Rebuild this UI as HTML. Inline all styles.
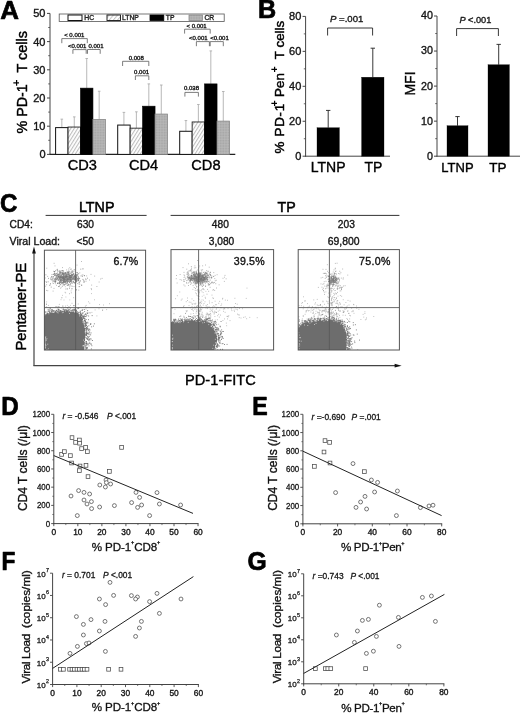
<!DOCTYPE html>
<html><head><meta charset="utf-8"><title>Figure</title>
<style>
html,body{margin:0;padding:0;background:#fff;}
body{width:520px;height:715px;overflow:hidden;font-family:"Liberation Sans",sans-serif;}
svg{display:block;will-change:transform;filter:blur(0.35px);-webkit-font-smoothing:antialiased;font-family:"Liberation Sans",sans-serif;}
</style></head><body>
<svg width="520" height="715" viewBox="0 0 520 715">
<defs>
<pattern id="hatch" width="2.9" height="2.9" patternUnits="userSpaceOnUse" patternTransform="rotate(32)">
<rect width="2.9" height="2.9" fill="#fff"/><line x1="0.6" y1="0" x2="0.6" y2="2.9" stroke="#909090" stroke-width="0.65"/></pattern>
<pattern id="hatch2" width="3.2" height="3.2" patternUnits="userSpaceOnUse" patternTransform="rotate(40)">
<rect width="3.2" height="3.2" fill="#fff"/><line x1="0.6" y1="0" x2="0.6" y2="3.2" stroke="#999" stroke-width="0.6"/></pattern>
<pattern id="grid" width="1.6" height="1.6" patternUnits="userSpaceOnUse">
<rect width="1.6" height="1.6" fill="#a4a4a4"/><path d="M0 0.4H1.6M0.4 0V1.6" stroke="#bcbcbc" stroke-width="0.5"/></pattern>
</defs>
<rect width="520" height="715" fill="#fff"/>
<g id="A">
<text transform="translate(0.30,19.20) scale(1.03,1)" font-size="25.2" font-weight="bold" fill="#000" stroke="#000" stroke-width="0.7" stroke-linejoin="round">A</text>
<line x1="50.00" y1="13.40" x2="50.00" y2="154.90" stroke="#444" stroke-width="1" />
<line x1="49.50" y1="154.40" x2="235.30" y2="154.40" stroke="#222" stroke-width="1.1" />
<line x1="47.00" y1="154.40" x2="50.00" y2="154.40" stroke="#444" stroke-width="1" />
<text x="45.50" y="158.30" font-size="11" text-anchor="end" font-weight="normal" font-style="normal" fill="#161616"  stroke="#161616" stroke-width="0.36">0</text>
<line x1="47.00" y1="126.20" x2="50.00" y2="126.20" stroke="#444" stroke-width="1" />
<text x="45.50" y="130.10" font-size="11" text-anchor="end" font-weight="normal" font-style="normal" fill="#161616"  stroke="#161616" stroke-width="0.36">10</text>
<line x1="47.00" y1="98.00" x2="50.00" y2="98.00" stroke="#444" stroke-width="1" />
<text x="45.50" y="101.90" font-size="11" text-anchor="end" font-weight="normal" font-style="normal" fill="#161616"  stroke="#161616" stroke-width="0.36">20</text>
<line x1="47.00" y1="69.80" x2="50.00" y2="69.80" stroke="#444" stroke-width="1" />
<text x="45.50" y="73.70" font-size="11" text-anchor="end" font-weight="normal" font-style="normal" fill="#161616"  stroke="#161616" stroke-width="0.36">30</text>
<line x1="47.00" y1="41.60" x2="50.00" y2="41.60" stroke="#444" stroke-width="1" />
<text x="45.50" y="45.50" font-size="11" text-anchor="end" font-weight="normal" font-style="normal" fill="#161616"  stroke="#161616" stroke-width="0.36">40</text>
<line x1="47.00" y1="13.40" x2="50.00" y2="13.40" stroke="#444" stroke-width="1" />
<text x="45.50" y="17.30" font-size="11" text-anchor="end" font-weight="normal" font-style="normal" fill="#161616"  stroke="#161616" stroke-width="0.36">50</text>
<line x1="48.20" y1="140.30" x2="50.00" y2="140.30" stroke="#444" stroke-width="0.8" />
<line x1="48.20" y1="112.10" x2="50.00" y2="112.10" stroke="#444" stroke-width="0.8" />
<line x1="48.20" y1="83.90" x2="50.00" y2="83.90" stroke="#444" stroke-width="0.8" />
<line x1="48.20" y1="55.70" x2="50.00" y2="55.70" stroke="#444" stroke-width="0.8" />
<line x1="48.20" y1="27.50" x2="50.00" y2="27.50" stroke="#444" stroke-width="0.8" />
<text transform="translate(26.70,133.50) rotate(-90)" font-size="14.3" text-anchor="start" font-weight="normal" fill="#000" stroke="#000" stroke-width="0.45">% PD-1</text>
<text transform="translate(20.40,86.20) rotate(-90)" font-size="11.5" text-anchor="start" font-weight="bold" fill="#000" >+</text>
<text transform="translate(26.70,72.60) rotate(-90)" font-size="14.5" text-anchor="start" font-weight="normal" fill="#000" stroke="#000" stroke-width="0.45">T cells</text>
<rect x="59.20" y="14.00" width="165.00" height="7.40" fill="none" stroke="#555" stroke-width="0.8" />
<rect x="68.00" y="15.00" width="14.00" height="5.50" fill="#fff" stroke="#111" stroke-width="1.0" />
<text x="84.30" y="20.30" font-size="6.8" text-anchor="start" font-weight="normal" font-style="normal" fill="#222"  stroke="#222" stroke-width="0.36">HC</text>
<rect x="107.00" y="15.00" width="13.50" height="5.50" fill="url(#hatch2)" stroke="#111" stroke-width="0.9" />
<text x="122.00" y="20.30" font-size="6.8" text-anchor="start" font-weight="normal" font-style="normal" fill="#222"  stroke="#222" stroke-width="0.36">LTNP</text>
<rect x="150.00" y="15.00" width="13.80" height="5.50" fill="#000" stroke="#000" stroke-width="0.8" />
<text x="165.80" y="20.30" font-size="6.8" text-anchor="start" font-weight="normal" font-style="normal" fill="#222"  stroke="#222" stroke-width="0.36">TP</text>
<rect x="189.00" y="15.00" width="13.50" height="5.50" fill="url(#grid)" stroke="#888" stroke-width="0.8" />
<text x="204.40" y="20.30" font-size="6.8" text-anchor="start" font-weight="normal" font-style="normal" fill="#222"  stroke="#222" stroke-width="0.36">CR</text>
<line x1="61.83" y1="127.61" x2="61.83" y2="119.15" stroke="#a6a6a6" stroke-width="0.8" />
<line x1="60.53" y1="119.15" x2="63.12" y2="119.15" stroke="#a6a6a6" stroke-width="0.8" />
<rect x="55.60" y="127.61" width="12.45" height="26.79" fill="#fff" stroke="#111" stroke-width="1.0" />
<line x1="74.27" y1="127.05" x2="74.27" y2="116.89" stroke="#a6a6a6" stroke-width="0.8" />
<line x1="72.97" y1="116.89" x2="75.57" y2="116.89" stroke="#a6a6a6" stroke-width="0.8" />
<rect x="68.05" y="127.05" width="12.45" height="27.35" fill="url(#hatch)" stroke="#222" stroke-width="0.9" />
<line x1="86.72" y1="88.13" x2="86.72" y2="58.52" stroke="#a6a6a6" stroke-width="0.8" />
<line x1="85.42" y1="58.52" x2="88.02" y2="58.52" stroke="#a6a6a6" stroke-width="0.8" />
<rect x="80.50" y="88.13" width="12.45" height="66.27" fill="#000" stroke="#000" stroke-width="0.6" />
<line x1="99.17" y1="119.43" x2="99.17" y2="91.23" stroke="#a6a6a6" stroke-width="0.8" />
<line x1="97.87" y1="91.23" x2="100.47" y2="91.23" stroke="#a6a6a6" stroke-width="0.8" />
<rect x="92.95" y="119.43" width="12.45" height="34.97" fill="url(#grid)" stroke="#888" stroke-width="0.8" />
<text x="82.30" y="169.70" font-size="14.6" text-anchor="middle" font-weight="normal" font-style="normal" fill="#000"  stroke="#000" stroke-width="0.36">CD3</text>
<line x1="123.92" y1="125.07" x2="123.92" y2="112.38" stroke="#a6a6a6" stroke-width="0.8" />
<line x1="122.62" y1="112.38" x2="125.22" y2="112.38" stroke="#a6a6a6" stroke-width="0.8" />
<rect x="117.70" y="125.07" width="12.45" height="29.33" fill="#fff" stroke="#111" stroke-width="1.0" />
<line x1="136.38" y1="128.17" x2="136.38" y2="111.82" stroke="#a6a6a6" stroke-width="0.8" />
<line x1="135.07" y1="111.82" x2="137.68" y2="111.82" stroke="#a6a6a6" stroke-width="0.8" />
<rect x="130.15" y="128.17" width="12.45" height="26.23" fill="url(#hatch)" stroke="#222" stroke-width="0.9" />
<line x1="148.82" y1="106.18" x2="148.82" y2="83.90" stroke="#a6a6a6" stroke-width="0.8" />
<line x1="147.52" y1="83.90" x2="150.12" y2="83.90" stroke="#a6a6a6" stroke-width="0.8" />
<rect x="142.60" y="106.18" width="12.45" height="48.22" fill="#000" stroke="#000" stroke-width="0.6" />
<line x1="161.28" y1="114.07" x2="161.28" y2="85.03" stroke="#a6a6a6" stroke-width="0.8" />
<line x1="159.97" y1="85.03" x2="162.58" y2="85.03" stroke="#a6a6a6" stroke-width="0.8" />
<rect x="155.05" y="114.07" width="12.45" height="40.33" fill="url(#grid)" stroke="#888" stroke-width="0.8" />
<text x="143.50" y="169.70" font-size="14.6" text-anchor="middle" font-weight="normal" font-style="normal" fill="#000"  stroke="#000" stroke-width="0.36">CD4</text>
<line x1="185.92" y1="131.28" x2="185.92" y2="120.56" stroke="#a6a6a6" stroke-width="0.8" />
<line x1="184.62" y1="120.56" x2="187.22" y2="120.56" stroke="#a6a6a6" stroke-width="0.8" />
<rect x="179.70" y="131.28" width="12.45" height="23.12" fill="#fff" stroke="#111" stroke-width="1.0" />
<line x1="198.37" y1="121.97" x2="198.37" y2="104.49" stroke="#a6a6a6" stroke-width="0.8" />
<line x1="197.07" y1="104.49" x2="199.67" y2="104.49" stroke="#a6a6a6" stroke-width="0.8" />
<rect x="192.15" y="121.97" width="12.45" height="32.43" fill="url(#hatch)" stroke="#222" stroke-width="0.9" />
<line x1="210.82" y1="83.90" x2="210.82" y2="50.91" stroke="#a6a6a6" stroke-width="0.8" />
<line x1="209.52" y1="50.91" x2="212.12" y2="50.91" stroke="#a6a6a6" stroke-width="0.8" />
<rect x="204.60" y="83.90" width="12.45" height="70.50" fill="#000" stroke="#000" stroke-width="0.6" />
<line x1="223.27" y1="121.12" x2="223.27" y2="91.51" stroke="#a6a6a6" stroke-width="0.8" />
<line x1="221.97" y1="91.51" x2="224.57" y2="91.51" stroke="#a6a6a6" stroke-width="0.8" />
<rect x="217.05" y="121.12" width="12.45" height="33.28" fill="url(#grid)" stroke="#888" stroke-width="0.8" />
<text x="205.90" y="169.70" font-size="14.6" text-anchor="middle" font-weight="normal" font-style="normal" fill="#000"  stroke="#000" stroke-width="0.36">CD8</text>
<path d="M61.8 43.2V38.6H87.3V43.2" fill="none" stroke="#5c5c5c" stroke-width="0.8" />
<text x="74.30" y="36.50" font-size="6" text-anchor="middle" font-weight="normal" font-style="normal" fill="#1a1a1a"  stroke="#1a1a1a" stroke-width="0.36">&lt; 0.001</text>
<path d="M72.9 53.8V49.6H86.2V53.8" fill="none" stroke="#5c5c5c" stroke-width="0.8" />
<text x="77.20" y="47.60" font-size="6" text-anchor="middle" font-weight="normal" font-style="normal" fill="#1a1a1a"  stroke="#1a1a1a" stroke-width="0.36">&lt;0.001</text>
<path d="M87.5 53.8V49.5H100.2V53.8" fill="none" stroke="#5c5c5c" stroke-width="0.8" />
<text x="96.00" y="47.60" font-size="6" text-anchor="middle" font-weight="normal" font-style="normal" fill="#1a1a1a"  stroke="#1a1a1a" stroke-width="0.36">0.001</text>
<path d="M122.6 66.0V61.3H148.8V66.0" fill="none" stroke="#5c5c5c" stroke-width="0.8" />
<text x="136.30" y="59.60" font-size="6" text-anchor="middle" font-weight="normal" font-style="normal" fill="#1a1a1a"  stroke="#1a1a1a" stroke-width="0.36">0.008</text>
<path d="M135.4 80.0V75.8H148.8V80.0" fill="none" stroke="#5c5c5c" stroke-width="0.8" />
<text x="141.60" y="73.90" font-size="6" text-anchor="middle" font-weight="normal" font-style="normal" fill="#1a1a1a"  stroke="#1a1a1a" stroke-width="0.36">0.001</text>
<path d="M184.6 33.6V29.2H210.2V33.6" fill="none" stroke="#5c5c5c" stroke-width="0.8" />
<text x="196.60" y="28.00" font-size="6" text-anchor="middle" font-weight="normal" font-style="normal" fill="#1a1a1a"  stroke="#1a1a1a" stroke-width="0.36">&lt; 0.001</text>
<path d="M196.4 46.2V41.6H209.4V46.2" fill="none" stroke="#5c5c5c" stroke-width="0.8" />
<text x="198.30" y="39.90" font-size="6" text-anchor="middle" font-weight="normal" font-style="normal" fill="#1a1a1a"  stroke="#1a1a1a" stroke-width="0.36">&lt;0.001</text>
<path d="M210.2 46.2V41.6H223.3V46.2" fill="none" stroke="#5c5c5c" stroke-width="0.8" />
<text x="219.50" y="39.90" font-size="6" text-anchor="middle" font-weight="normal" font-style="normal" fill="#1a1a1a"  stroke="#1a1a1a" stroke-width="0.36">&lt;0.001</text>
<path d="M184.9 96.6V92.4H198.4V96.6" fill="none" stroke="#5c5c5c" stroke-width="0.8" />
<text x="191.50" y="90.30" font-size="6" text-anchor="middle" font-weight="normal" font-style="normal" fill="#1a1a1a"  stroke="#1a1a1a" stroke-width="0.36">0.038</text>
</g>
<g id="B">
<text transform="translate(257.90,18.20) scale(1.0,1)" font-size="25.2" font-weight="bold" fill="#000" stroke="#000" stroke-width="0.7" stroke-linejoin="round">B</text>
<line x1="305.60" y1="16.40" x2="305.60" y2="156.70" stroke="#444" stroke-width="1" />
<line x1="305.10" y1="156.20" x2="390.00" y2="156.20" stroke="#444" stroke-width="1" />
<line x1="302.60" y1="156.20" x2="305.60" y2="156.20" stroke="#444" stroke-width="1" />
<text x="301.30" y="160.10" font-size="11" text-anchor="end" font-weight="normal" font-style="normal" fill="#161616"  stroke="#161616" stroke-width="0.36">0</text>
<line x1="302.60" y1="121.25" x2="305.60" y2="121.25" stroke="#444" stroke-width="1" />
<text x="301.30" y="125.15" font-size="11" text-anchor="end" font-weight="normal" font-style="normal" fill="#161616"  stroke="#161616" stroke-width="0.36">20</text>
<line x1="302.60" y1="86.30" x2="305.60" y2="86.30" stroke="#444" stroke-width="1" />
<text x="301.30" y="90.20" font-size="11" text-anchor="end" font-weight="normal" font-style="normal" fill="#161616"  stroke="#161616" stroke-width="0.36">40</text>
<line x1="302.60" y1="51.35" x2="305.60" y2="51.35" stroke="#444" stroke-width="1" />
<text x="301.30" y="55.25" font-size="11" text-anchor="end" font-weight="normal" font-style="normal" fill="#161616"  stroke="#161616" stroke-width="0.36">60</text>
<line x1="302.60" y1="16.40" x2="305.60" y2="16.40" stroke="#444" stroke-width="1" />
<text x="301.30" y="20.30" font-size="11" text-anchor="end" font-weight="normal" font-style="normal" fill="#161616"  stroke="#161616" stroke-width="0.36">80</text>
<line x1="303.80" y1="138.72" x2="305.60" y2="138.72" stroke="#444" stroke-width="0.8" />
<line x1="303.80" y1="103.77" x2="305.60" y2="103.77" stroke="#444" stroke-width="0.8" />
<line x1="303.80" y1="68.83" x2="305.60" y2="68.83" stroke="#444" stroke-width="0.8" />
<line x1="303.80" y1="33.88" x2="305.60" y2="33.88" stroke="#444" stroke-width="0.8" />
<line x1="328.20" y1="127.72" x2="328.20" y2="110.42" stroke="#222" stroke-width="0.9" />
<line x1="326.00" y1="110.42" x2="330.40" y2="110.42" stroke="#222" stroke-width="0.9" />
<rect x="317.00" y="127.72" width="22.40" height="28.48" fill="#000" stroke="#000" stroke-width="0.3" />
<line x1="372.80" y1="77.21" x2="372.80" y2="48.20" stroke="#222" stroke-width="0.9" />
<line x1="370.60" y1="48.20" x2="375.00" y2="48.20" stroke="#222" stroke-width="0.9" />
<rect x="361.60" y="77.21" width="22.40" height="78.99" fill="#000" stroke="#000" stroke-width="0.3" />
<path d="M327.6 35.5V28H372.6V35.5" fill="none" stroke="#222" stroke-width="0.9" />
<text x="330" y="21.7" font-size="9.6" fill="#161616" stroke="#161616" stroke-width="0.35"><tspan font-style="italic">P</tspan> =.001</text>
<text x="328.20" y="171.50" font-size="14" text-anchor="middle" font-weight="normal" font-style="normal" fill="#000"  stroke="#000" stroke-width="0.36">LTNP</text>
<text x="373.40" y="171.50" font-size="14" text-anchor="middle" font-weight="normal" font-style="normal" fill="#000"  stroke="#000" stroke-width="0.36">TP</text>
<text transform="translate(283.80,153.40) rotate(-90)" font-size="13.4" text-anchor="start" font-weight="normal" fill="#000" stroke="#000" stroke-width="0.45" textLength="49.6">% PD-1</text>
<text transform="translate(278.20,106.40) rotate(-90)" font-size="10.8" text-anchor="start" font-weight="bold" fill="#000" >+</text>
<text transform="translate(283.80,96.90) rotate(-90)" font-size="13.4" text-anchor="start" font-weight="normal" fill="#000" stroke="#000" stroke-width="0.45">Pen</text>
<text transform="translate(278.20,72.60) rotate(-90)" font-size="10.8" text-anchor="start" font-weight="bold" fill="#000" >+</text>
<text transform="translate(283.80,59.20) rotate(-90)" font-size="13.4" text-anchor="start" font-weight="normal" fill="#000" stroke="#000" stroke-width="0.45">T cells</text>
<line x1="437.00" y1="16.00" x2="437.00" y2="156.70" stroke="#444" stroke-width="1" />
<line x1="436.50" y1="156.20" x2="520.00" y2="156.20" stroke="#444" stroke-width="1" />
<line x1="434.00" y1="156.20" x2="437.00" y2="156.20" stroke="#444" stroke-width="1" />
<text x="433.00" y="159.60" font-size="10.7" text-anchor="end" font-weight="normal" font-style="normal" fill="#161616"  stroke="#161616" stroke-width="0.36">0</text>
<line x1="434.00" y1="121.15" x2="437.00" y2="121.15" stroke="#444" stroke-width="1" />
<text x="433.00" y="124.55" font-size="10.7" text-anchor="end" font-weight="normal" font-style="normal" fill="#161616"  stroke="#161616" stroke-width="0.36">10</text>
<line x1="434.00" y1="86.10" x2="437.00" y2="86.10" stroke="#444" stroke-width="1" />
<text x="433.00" y="89.50" font-size="10.7" text-anchor="end" font-weight="normal" font-style="normal" fill="#161616"  stroke="#161616" stroke-width="0.36">20</text>
<line x1="434.00" y1="51.05" x2="437.00" y2="51.05" stroke="#444" stroke-width="1" />
<text x="433.00" y="54.45" font-size="10.7" text-anchor="end" font-weight="normal" font-style="normal" fill="#161616"  stroke="#161616" stroke-width="0.36">30</text>
<line x1="434.00" y1="16.00" x2="437.00" y2="16.00" stroke="#444" stroke-width="1" />
<text x="433.00" y="19.40" font-size="10.7" text-anchor="end" font-weight="normal" font-style="normal" fill="#161616"  stroke="#161616" stroke-width="0.36">40</text>
<line x1="435.20" y1="138.67" x2="437.00" y2="138.67" stroke="#444" stroke-width="0.8" />
<line x1="435.20" y1="103.62" x2="437.00" y2="103.62" stroke="#444" stroke-width="0.8" />
<line x1="435.20" y1="68.57" x2="437.00" y2="68.57" stroke="#444" stroke-width="0.8" />
<line x1="435.20" y1="33.52" x2="437.00" y2="33.52" stroke="#444" stroke-width="0.8" />
<line x1="457.50" y1="125.71" x2="457.50" y2="116.59" stroke="#222" stroke-width="0.9" />
<line x1="455.30" y1="116.59" x2="459.70" y2="116.59" stroke="#222" stroke-width="0.9" />
<rect x="447.00" y="125.71" width="21.00" height="30.49" fill="#000" stroke="#000" stroke-width="0.3" />
<line x1="498.70" y1="64.72" x2="498.70" y2="44.39" stroke="#222" stroke-width="0.9" />
<line x1="496.50" y1="44.39" x2="500.90" y2="44.39" stroke="#222" stroke-width="0.9" />
<rect x="488.00" y="64.72" width="21.40" height="91.48" fill="#000" stroke="#000" stroke-width="0.3" />
<path d="M456.6 36V28.6H498.4V36" fill="none" stroke="#222" stroke-width="0.9" />
<text x="459.4" y="22.5" font-size="9.2" fill="#161616" stroke="#161616" stroke-width="0.35"><tspan font-style="italic">P</tspan> &lt;.001</text>
<text x="457.50" y="171.50" font-size="13" text-anchor="middle" font-weight="normal" font-style="normal" fill="#000"  stroke="#000" stroke-width="0.36">LTNP</text>
<text x="497.80" y="171.50" font-size="13.5" text-anchor="middle" font-weight="normal" font-style="normal" fill="#000"  stroke="#000" stroke-width="0.36">TP</text>
<text transform="translate(415.00,83.50) rotate(-90)" font-size="14" text-anchor="middle" font-weight="normal" fill="#000" stroke="#000" stroke-width="0.35">MFI</text>
</g>
<g id="C">
<text transform="translate(0.00,212.00) scale(0.96,1)" font-size="25.2" font-weight="bold" fill="#000" stroke="#000" stroke-width="0.7" stroke-linejoin="round">C</text>
<text x="96.70" y="212.00" font-size="14.3" text-anchor="middle" font-weight="normal" font-style="normal" fill="#000" stroke="#000" stroke-width="0.5">LTNP</text>
<text x="286.60" y="212.00" font-size="14.2" text-anchor="middle" font-weight="normal" font-style="normal" fill="#000" stroke="#000" stroke-width="0.5">TP</text>
<line x1="45.60" y1="215.40" x2="146.60" y2="215.40" stroke="#333" stroke-width="1" />
<line x1="170.60" y1="215.40" x2="399.40" y2="215.40" stroke="#333" stroke-width="1" />
<text x="9.60" y="228.20" font-size="10.2" text-anchor="start" font-weight="normal" font-style="normal" fill="#161616"  stroke="#161616" stroke-width="0.36">CD4:</text>
<text x="9.60" y="244.60" font-size="10.6" text-anchor="start" font-weight="normal" font-style="normal" fill="#161616"  stroke="#161616" stroke-width="0.36">Viral Load:</text>
<text x="77.00" y="228.20" font-size="10.2" text-anchor="start" font-weight="normal" font-style="normal" fill="#161616"  stroke="#161616" stroke-width="0.36">630</text>
<text x="76.60" y="244.60" font-size="10.2" text-anchor="start" font-weight="normal" font-style="normal" fill="#161616"  stroke="#161616" stroke-width="0.36">&lt;50</text>
<text x="220.30" y="228.20" font-size="10.2" text-anchor="middle" font-weight="normal" font-style="normal" fill="#161616"  stroke="#161616" stroke-width="0.36">480</text>
<text x="221.50" y="244.60" font-size="10.2" text-anchor="middle" font-weight="normal" font-style="normal" fill="#161616"  stroke="#161616" stroke-width="0.36">3,080</text>
<text x="346.30" y="228.20" font-size="10.2" text-anchor="middle" font-weight="normal" font-style="normal" fill="#161616"  stroke="#161616" stroke-width="0.36">203</text>
<text x="343.60" y="244.60" font-size="10.4" text-anchor="middle" font-weight="normal" font-style="normal" fill="#161616"  stroke="#161616" stroke-width="0.36">69,800</text>
<path d="M34 365.7V252" fill="none" stroke="#444" stroke-width="1.2" />
<path d="M34 246.5L32.1 253.5H35.9Z" fill="#111" stroke="none" stroke-width="1" />
<path d="M33.4 365.7H396" fill="none" stroke="#444" stroke-width="1.2" />
<path d="M401.6 365.7L394.6 363.8V367.6Z" fill="#111" stroke="none" stroke-width="1" />
<text transform="translate(25.90,350.40) rotate(-90)" font-size="14.8" text-anchor="start" font-weight="normal" fill="#000" stroke="#000" stroke-width="0.45" textLength="87.6">Pentamer-PE</text>
<text x="185.00" y="385.00" font-size="14.6" text-anchor="start" font-weight="normal" font-style="normal" fill="#000" stroke="#000" stroke-width="0.4" textLength="70.8">PD-1-FITC</text>
<clipPath id="cp44"><rect x="44.4" y="250.2" width="101.19999999999999" height="99.80000000000001"/></clipPath>
<g clip-path="url(#cp44)">
<path d="M43.4 351.0 L43.4 316.0 L44.4 316.0 L44.6 315.8 L44.9 315.5 L45.4 315.0 L46.0 314.4 L46.8 313.8 L47.8 313.3 L48.9 312.9 L50.1 312.6 L51.6 312.4 L53.2 312.1 L55.0 311.8 L57.0 311.6 L59.1 311.4 L61.4 311.2 L63.8 311.1 L66.2 310.9 L68.6 311.0 L70.7 311.1 L72.6 311.2 L74.4 311.5 L75.9 312.0 L77.3 312.5 L78.5 313.1 L79.5 313.9 L80.4 314.8 L81.3 315.9 L82.1 317.2 L82.9 318.8 L83.5 320.5 L84.1 322.5 L84.5 324.8 L84.9 327.2 L85.1 329.9 L85.2 332.6 L85.2 335.5 L85.2 338.5 L85.0 341.2 L84.8 343.6 L84.6 345.6 L84.4 347.4 L84.2 348.7 L84.1 349.6 L84.0 350.0 L84.0 351.0Z" fill="#6d6d6d" stroke="none" stroke-width="0" />
<path d="M53.7 310.8h0.9M87.6 336.7h0.9M56.1 310.5h0.9M73.4 305.6h0.9M59.9 311.2h0.9M85.2 324.9h0.9M48.2 311.2h0.9M86.1 348.6h0.9M45.4 311.7h0.9M44.7 312.4h0.9M60.5 310.8h0.9M80.1 313.8h0.9M49.2 311.2h0.9M84.0 320.0h0.9M89.3 343.5h0.9M84.8 322.3h0.9M51.2 311.8h0.9M64.9 310.4h0.9M45.0 314.3h0.9M69.5 310.9h0.9M87.3 338.1h0.9M82.3 315.1h0.9M85.2 330.0h0.9M84.2 311.6h0.9M54.9 311.6h0.9M46.5 313.9h0.9M85.5 347.2h0.9M68.8 307.2h0.9M86.9 348.3h0.9M70.3 311.0h0.9M85.6 322.3h0.9M85.5 325.1h0.9M84.8 321.5h0.9M85.7 319.5h0.9M85.8 335.5h0.9M86.1 325.7h0.9M61.8 311.2h0.9M87.7 344.4h0.9M84.7 348.9h0.9M85.3 328.5h0.9M86.2 334.4h0.9M84.0 320.4h0.9M85.3 334.7h0.9M85.7 335.4h0.9M85.4 316.6h0.9M86.0 341.8h0.9M91.2 326.8h0.9M49.8 308.2h0.9M85.3 345.6h0.9M86.0 327.6h0.9M55.6 306.7h0.9M87.1 313.4h0.9M80.2 314.2h0.9M53.3 311.1h0.9M51.9 310.3h0.9M62.4 306.1h0.9M88.4 325.8h0.9M75.2 309.3h0.9M90.1 324.1h0.9M91.1 344.1h0.9M78.3 312.5h0.9M85.8 343.5h0.9M49.3 312.7h0.9M88.6 340.0h0.9M71.1 310.6h0.9M85.4 313.6h0.9M89.5 330.0h0.9M79.8 311.1h0.9M63.5 309.5h0.9M85.3 341.8h0.9M62.8 308.9h0.9M80.1 311.9h0.9M87.1 347.4h0.9M90.5 339.8h0.9M79.9 312.9h0.9M57.3 310.9h0.9M82.7 315.8h0.9M67.3 310.8h0.9M86.3 334.1h0.9M71.1 310.8h0.9M85.8 345.3h0.9M81.1 315.5h0.9M88.4 340.7h0.9M52.5 311.8h0.9M86.3 330.5h0.9M58.0 309.3h0.9M80.1 314.0h0.9M85.8 347.5h0.9M59.9 310.8h0.9M86.0 329.4h0.9M85.8 335.2h0.9M89.1 339.1h0.9M82.3 316.8h0.9M85.9 343.4h0.9M88.0 319.7h0.9M88.6 339.4h0.9M49.0 312.8h0.9M83.6 316.4h0.9M86.1 341.8h0.9M87.1 326.4h0.9M47.7 309.4h0.9M85.9 322.6h0.9M58.3 306.8h0.9M91.4 345.7h0.9M87.3 322.3h0.9M89.3 342.3h0.9M81.1 314.5h0.9M86.8 333.2h0.9M74.5 310.3h0.9M69.9 308.1h0.9M51.7 311.2h0.9M57.9 311.0h0.9M82.7 312.9h0.9M82.9 316.4h0.9M86.9 339.3h0.9M79.4 312.3h0.9M85.1 321.3h0.9M47.1 313.7h0.9M84.8 320.7h0.9M50.6 312.2h0.9M85.7 343.4h0.9M86.5 333.5h0.9M57.4 309.1h0.9M82.9 317.0h0.9M86.2 328.3h0.9M85.9 325.2h0.9M89.2 332.0h0.9M87.4 323.1h0.9M82.6 316.7h0.9M85.9 343.1h0.9M75.5 310.3h0.9M85.9 332.4h0.9M77.4 308.6h0.9M85.5 341.9h0.9M65.9 310.8h0.9M87.2 336.3h0.9M65.3 310.4h0.9M63.3 309.7h0.9M48.8 311.8h0.9M85.6 349.8h0.9M74.8 311.5h0.9M90.9 348.9h0.9M70.6 310.6h0.9M86.0 323.2h0.9M86.3 331.2h0.9M85.6 328.9h0.9M86.7 329.5h0.9M85.3 346.7h0.9M87.2 310.6h0.9M84.9 314.6h0.9M74.2 309.5h0.9M85.8 344.3h0.9M68.0 310.8h0.9M60.3 310.8h0.9M58.8 309.8h0.9M86.2 327.6h0.9M46.6 312.9h0.9M85.3 337.2h0.9M87.5 313.0h0.9M88.9 336.3h0.9M50.7 309.7h0.9M84.2 316.4h0.9M80.4 313.4h0.9M89.4 334.1h0.9M84.8 326.3h0.9M56.1 310.3h0.9M81.4 315.5h0.9M84.5 323.1h0.9M93.1 326.1h0.9M92.1 340.5h0.9M88.0 330.6h0.9M53.4 311.3h0.9M67.6 310.8h0.9M88.2 316.0h0.9M88.3 334.2h0.9M86.3 337.9h0.9M86.0 333.7h0.9M93.9 323.8h0.9M88.6 329.7h0.9M90.2 334.9h0.9M90.4 338.6h0.9M91.7 315.6h0.9M85.6 332.0h0.9M52.1 312.2h0.9M84.3 321.2h0.9M56.8 311.5h0.9M73.6 309.2h0.9M69.6 310.0h0.9M86.4 332.4h0.9M58.1 309.5h0.9M89.9 344.0h0.9M86.6 343.3h0.9M85.9 338.6h0.9M85.6 325.2h0.9M71.7 309.9h0.9M47.1 313.4h0.9M85.0 324.0h0.9M83.3 318.4h0.9M50.6 310.4h0.9M84.3 323.1h0.9M85.3 326.0h0.9M75.9 310.3h0.9M85.5 344.1h0.9M82.0 309.9h0.9M83.3 318.4h0.9M86.4 315.4h0.9M85.8 333.3h0.9M84.6 323.3h0.9M84.2 320.5h0.9M78.2 308.4h0.9M84.0 318.1h0.9M65.6 309.7h0.9M84.4 323.6h0.9M88.2 337.7h0.9M85.7 334.4h0.9M65.8 310.4h0.9M81.8 313.5h0.9M71.0 311.1h0.9M74.5 310.8h0.9M77.4 312.1h0.9M85.5 323.4h0.9M46.0 304.2h0.9M87.4 339.6h0.9M88.5 332.3h0.9M84.1 315.1h0.9M82.8 317.7h0.9M84.6 321.3h0.9M52.5 310.7h0.9M88.5 345.9h0.9M73.5 309.8h0.9M87.7 343.3h0.9M85.1 328.2h0.9M86.8 328.1h0.9M82.2 316.9h0.9M64.0 310.4h0.9M85.8 348.7h0.9M48.9 309.9h0.9M84.8 319.0h0.9M90.6 332.9h0.9M66.4 310.0h0.9M51.1 311.3h0.9M83.9 318.5h0.9M75.9 311.7h0.9M64.7 309.7h0.9M80.9 314.9h0.9M65.4 310.5h0.9M87.3 333.6h0.9M85.1 325.9h0.9M86.7 328.6h0.9M51.7 309.5h0.9M67.1 307.8h0.9M88.8 329.1h0.9M60.4 311.2h0.9M47.5 311.2h0.9M85.6 314.6h0.9M52.9 311.0h0.9M87.2 328.1h0.9M85.4 334.9h0.9M58.8 310.9h0.9M89.9 324.2h0.9M72.6 309.6h0.9M55.1 311.1h0.9M66.5 307.6h0.9M68.1 309.8h0.9M81.8 310.4h0.9M86.9 344.8h0.9M85.4 316.5h0.9M73.4 310.7h0.9M85.7 347.8h0.9M84.3 323.8h0.9M80.7 315.0h0.9M83.8 309.5h0.9M72.4 310.6h0.9M85.4 333.1h0.9M87.7 333.6h0.9M84.9 324.4h0.9M72.2 310.4h0.9M75.8 310.5h0.9M63.7 310.5h0.9M83.2 317.3h0.9M58.3 310.9h0.9M68.8 309.4h0.9M87.3 338.6h0.9M66.9 310.5h0.9M90.5 323.9h0.9M87.9 329.1h0.9M76.6 311.6h0.9" stroke="#727272" stroke-width="0.9" fill="none" opacity="1"/>
<path d="M69.0 313.5h0.8M44.9 338.1h0.8M84.6 341.6h0.8M44.7 339.5h0.8M82.7 322.1h0.8M44.7 344.5h0.8M53.1 312.1h0.8M44.9 342.0h0.8M68.5 311.7h0.8M83.1 319.9h0.8M82.7 346.0h0.8M83.6 322.1h0.8M56.7 312.4h0.8M45.5 345.4h0.8M46.5 338.7h0.8M83.0 319.9h0.8M79.3 314.1h0.8M52.1 312.3h0.8M44.4 347.4h0.8M78.5 313.7h0.8M46.5 349.5h0.8M83.1 340.1h0.8M82.5 320.5h0.8M45.2 337.9h0.8M48.5 313.8h0.8M45.2 343.9h0.8M65.2 311.0h0.8M83.4 323.9h0.8M82.7 322.0h0.8M57.7 312.9h0.8M44.8 348.2h0.8M53.1 312.3h0.8M69.9 311.1h0.8M71.0 311.1h0.8M85.1 339.9h0.8M45.9 340.0h0.8M61.9 312.7h0.8M84.9 338.5h0.8M45.4 340.6h0.8M44.7 345.2h0.8M84.7 331.9h0.8M84.3 341.6h0.8M70.2 311.3h0.8M47.4 344.2h0.8M82.7 345.7h0.8M84.1 324.1h0.8M79.0 315.9h0.8M84.2 327.2h0.8M53.7 312.3h0.8M45.4 336.8h0.8M47.9 348.9h0.8M83.4 345.5h0.8M73.9 311.6h0.8M74.2 312.1h0.8M44.8 346.3h0.8M71.8 311.3h0.8M63.0 312.2h0.8M83.9 322.2h0.8M44.9 347.3h0.8" stroke="#fff" stroke-width="0.8" fill="none" opacity="0.85"/>
<path d="M85.8 305.4h0.8M53.1 311.5h0.8M73.9 308.0h0.8M102.3 309.8h0.8M88.1 301.8h0.8M81.7 313.0h0.8M46.2 306.8h0.8M96.5 315.9h0.8M91.5 312.4h0.8M91.0 293.6h0.8M89.4 303.2h0.8M86.7 312.4h0.8M90.2 312.9h0.8M62.4 309.7h0.8M109.2 303.7h0.8M102.1 310.5h0.8M58.9 304.4h0.8M94.7 309.9h0.8M59.1 307.2h0.8M63.6 307.6h0.8M99.1 304.6h0.8M64.7 292.3h0.8M103.2 305.0h0.8M65.1 306.1h0.8M49.7 308.2h0.8M57.2 307.0h0.8M75.3 311.0h0.8M78.3 307.7h0.8M85.6 309.0h0.8M48.0 305.4h0.8M94.1 299.8h0.8M98.6 308.8h0.8M73.7 305.7h0.8M50.8 311.9h0.8M71.6 303.3h0.8M89.1 312.8h0.8M106.3 309.6h0.8M49.8 308.7h0.8M82.4 312.8h0.8M48.4 310.7h0.8M81.0 310.3h0.8M68.0 307.0h0.8M84.9 306.2h0.8M77.8 304.0h0.8M61.4 308.0h0.8M46.3 301.9h0.8" stroke="#8e8e8e" stroke-width="0.8" fill="none" opacity="0.8"/>
<path d="M61.2 277.5h0.8M68.4 276.6h0.8M66.5 276.7h0.8M70.4 276.3h0.8M62.5 273.4h0.8M60.3 273.0h0.8M65.0 281.5h0.8M56.5 275.1h0.8M60.3 279.7h0.8M63.8 277.0h0.8M58.9 277.2h0.8M63.4 275.3h0.8M76.4 279.8h0.8M64.8 279.1h0.8M83.0 280.2h0.8M62.1 278.0h0.8M74.5 279.6h0.8M64.0 278.4h0.8M57.7 277.0h0.8M63.0 277.2h0.8M76.1 278.2h0.8M74.6 278.1h0.8M54.9 282.2h0.8M62.0 277.7h0.8M74.2 282.8h0.8M67.2 282.4h0.8M62.4 280.3h0.8M59.3 281.4h0.8M61.8 280.3h0.8M57.1 283.0h0.8M78.0 277.2h0.8M66.5 274.8h0.8M64.6 273.1h0.8M71.3 277.8h0.8M74.6 278.1h0.8M64.3 275.2h0.8M70.7 277.6h0.8M57.2 273.0h0.8M73.1 277.7h0.8M65.5 276.2h0.8M62.1 278.0h0.8M67.5 274.0h0.8M84.3 281.2h0.8M51.9 278.3h0.8M74.3 275.8h0.8M55.9 279.9h0.8M61.4 278.0h0.8M78.2 278.0h0.8M75.9 275.4h0.8M52.5 276.7h0.8M63.1 280.3h0.8M69.3 271.3h0.8M57.8 276.5h0.8M60.6 275.8h0.8M63.6 278.6h0.8M54.9 274.9h0.8M59.3 282.1h0.8M64.7 273.0h0.8M69.6 281.2h0.8M54.1 273.9h0.8M69.3 278.2h0.8M70.5 283.5h0.8M70.9 281.4h0.8M62.4 282.8h0.8M60.9 279.2h0.8M51.1 276.6h0.8M71.8 274.9h0.8M62.5 270.7h0.8M63.5 273.6h0.8M66.4 276.4h0.8M60.9 276.9h0.8M63.0 278.0h0.8M64.1 281.9h0.8M73.8 269.5h0.8M75.9 277.3h0.8M68.6 274.9h0.8M70.5 279.9h0.8M61.9 274.2h0.8M69.8 279.5h0.8M59.3 270.8h0.8M57.8 279.4h0.8M75.4 274.7h0.8M61.8 274.3h0.8M68.6 275.3h0.8M78.4 280.0h0.8M64.6 276.6h0.8M73.5 276.7h0.8M63.2 278.4h0.8M73.8 282.8h0.8M63.5 273.9h0.8M59.4 277.4h0.8M70.8 269.1h0.8M70.8 279.4h0.8M67.6 273.0h0.8M66.8 276.2h0.8M59.2 280.0h0.8M75.2 278.6h0.8M70.3 281.3h0.8M66.3 276.6h0.8M77.0 275.9h0.8M63.9 279.1h0.8M63.1 274.8h0.8M74.1 277.9h0.8M61.1 276.0h0.8M70.4 280.7h0.8M67.6 281.8h0.8M66.1 283.3h0.8M72.8 274.1h0.8M65.5 279.1h0.8M66.1 274.7h0.8M69.6 277.7h0.8M55.4 273.7h0.8M63.4 281.1h0.8M65.9 278.6h0.8M73.1 277.2h0.8M66.3 277.7h0.8M72.8 275.8h0.8M69.0 275.5h0.8M66.8 281.6h0.8M60.5 279.6h0.8M66.8 278.7h0.8M70.0 278.2h0.8M69.8 284.0h0.8M61.3 274.4h0.8M71.6 279.3h0.8M80.6 275.9h0.8M71.5 276.1h0.8M62.8 276.0h0.8M60.4 274.8h0.8M64.0 277.4h0.8M66.7 280.7h0.8M59.8 277.7h0.8M60.0 280.7h0.8M59.8 276.8h0.8M60.7 281.5h0.8M57.7 274.2h0.8M63.5 276.8h0.8M59.7 281.7h0.8M62.4 271.0h0.8M64.9 273.6h0.8M61.6 276.3h0.8M59.9 276.6h0.8M63.5 280.0h0.8M84.2 275.7h0.8M63.0 281.7h0.8M78.3 280.6h0.8M64.4 284.4h0.8M66.9 281.9h0.8M62.4 273.9h0.8M75.8 275.0h0.8M58.9 278.4h0.8M59.7 280.2h0.8M66.8 277.3h0.8M62.3 282.8h0.8M76.0 281.7h0.8M57.0 283.5h0.8M67.0 283.7h0.8M70.0 275.7h0.8M54.6 275.7h0.8M74.8 276.5h0.8M77.9 273.7h0.8M70.8 277.6h0.8M56.4 279.2h0.8M63.4 277.0h0.8M51.6 274.6h0.8M61.6 277.5h0.8M60.4 284.8h0.8M63.4 278.7h0.8M64.0 282.2h0.8M70.3 281.3h0.8M55.4 278.5h0.8M65.2 280.1h0.8M61.5 278.5h0.8M59.3 276.8h0.8M68.7 276.3h0.8M60.3 277.5h0.8M68.5 279.4h0.8M57.9 276.5h0.8M58.0 274.6h0.8M83.0 282.0h0.8M71.2 277.0h0.8M72.2 283.1h0.8M74.9 280.4h0.8M59.2 286.0h0.8M71.6 280.9h0.8M68.6 279.2h0.8M63.3 272.3h0.8M78.7 286.6h0.8M69.5 280.2h0.8M66.0 280.5h0.8M65.1 277.7h0.8M70.6 272.3h0.8M76.0 276.7h0.8M70.0 280.0h0.8M77.4 283.6h0.8M57.0 274.8h0.8M67.3 272.5h0.8M70.5 277.6h0.8M60.6 280.8h0.8M59.5 275.5h0.8M66.0 280.9h0.8M64.7 276.8h0.8M67.4 276.7h0.8M53.0 281.1h0.8M69.5 281.7h0.8M66.9 279.6h0.8M54.2 273.4h0.8M52.4 281.9h0.8M61.1 282.4h0.8M69.1 276.5h0.8M65.3 275.3h0.8M62.8 279.1h0.8M70.7 276.4h0.8M54.8 281.8h0.8M58.1 280.4h0.8M55.2 275.0h0.8M51.8 280.2h0.8M69.0 288.3h0.8M79.2 278.4h0.8M51.4 277.2h0.8M67.7 279.2h0.8M67.0 274.6h0.8M63.7 284.3h0.8M62.0 276.7h0.8M57.4 275.9h0.8M74.4 279.2h0.8M62.2 276.8h0.8M71.6 276.1h0.8M60.2 276.9h0.8M47.7 281.8h0.8M60.1 280.5h0.8M65.7 281.4h0.8M62.0 286.2h0.8M69.7 277.3h0.8M68.0 271.1h0.8M57.7 271.2h0.8M63.9 285.2h0.8M68.2 273.1h0.8M54.8 279.2h0.8M70.2 277.3h0.8M76.1 278.8h0.8M80.1 280.8h0.8M80.4 269.2h0.8M71.1 280.6h0.8M76.4 280.0h0.8M68.6 279.1h0.8M67.2 279.9h0.8M77.2 272.6h0.8M62.6 273.1h0.8M61.6 278.9h0.8M67.1 279.3h0.8M71.0 279.4h0.8M63.4 277.6h0.8M58.2 276.5h0.8M65.0 279.3h0.8M54.5 281.7h0.8M65.2 272.8h0.8M64.6 279.9h0.8M66.4 276.6h0.8M59.4 278.7h0.8M66.8 279.0h0.8M63.0 282.1h0.8M52.8 278.0h0.8M54.1 271.5h0.8M66.9 280.8h0.8M63.6 279.5h0.8M64.4 281.8h0.8M61.4 279.8h0.8M68.0 272.7h0.8M74.0 276.1h0.8M57.6 275.8h0.8M71.7 276.6h0.8M71.2 274.9h0.8M67.5 272.3h0.8M63.6 282.3h0.8M61.9 278.6h0.8M52.8 283.5h0.8M64.0 279.5h0.8M62.9 274.6h0.8M63.1 276.9h0.8M58.2 277.5h0.8M58.7 276.4h0.8M45.5 274.8h0.8M67.8 278.7h0.8M63.9 279.3h0.8M77.7 279.2h0.8M66.4 277.7h0.8M67.9 280.1h0.8M49.8 284.9h0.8M72.3 279.5h0.8M61.2 277.6h0.8M60.1 282.4h0.8M60.7 272.6h0.8M63.9 275.2h0.8M66.9 278.5h0.8M59.5 272.9h0.8M63.1 273.7h0.8M64.1 278.6h0.8M62.7 278.5h0.8M62.6 283.4h0.8M52.9 274.4h0.8M73.4 273.9h0.8M69.8 277.3h0.8M65.4 273.3h0.8M62.5 277.5h0.8M50.4 278.0h0.8M62.3 270.6h0.8M66.5 276.8h0.8M54.7 281.7h0.8M64.5 274.2h0.8M59.1 278.9h0.8M61.5 280.3h0.8M56.5 278.8h0.8M68.5 279.7h0.8M59.6 274.8h0.8M57.3 278.3h0.8M50.8 287.1h0.8M63.4 281.9h0.8M63.0 282.3h0.8M63.4 281.3h0.8M72.3 278.9h0.8M56.5 279.3h0.8M66.3 276.9h0.8M63.6 280.2h0.8M50.8 279.7h0.8M76.5 275.8h0.8M73.8 276.5h0.8M63.1 276.8h0.8M65.1 275.4h0.8M61.1 277.2h0.8M58.8 277.7h0.8M72.3 275.2h0.8M66.6 275.5h0.8M57.2 277.9h0.8M63.2 281.2h0.8M70.1 278.2h0.8M60.7 282.3h0.8M56.1 275.5h0.8M70.2 279.3h0.8M69.5 277.2h0.8M70.2 281.7h0.8M51.8 279.6h0.8M71.9 274.6h0.8M58.6 279.1h0.8M69.5 277.9h0.8M53.8 278.6h0.8M64.5 276.7h0.8M72.3 271.0h0.8M65.9 276.0h0.8M69.2 276.9h0.8M77.1 278.5h0.8M61.5 272.6h0.8M63.3 277.8h0.8M76.1 279.1h0.8M66.4 275.0h0.8M66.6 274.8h0.8M55.4 279.3h0.8M62.1 273.6h0.8M73.1 281.9h0.8M68.3 272.6h0.8M59.4 274.8h0.8M66.9 288.9h0.8M71.5 277.6h0.8M59.4 273.4h0.8M60.1 278.5h0.8M63.5 279.5h0.8M68.8 274.2h0.8M71.0 278.0h0.8M76.4 277.5h0.8M62.7 277.5h0.8M73.7 279.6h0.8M73.3 281.2h0.8M67.5 285.4h0.8M64.6 277.2h0.8M73.0 274.2h0.8M67.5 281.1h0.8M59.1 271.8h0.8M55.4 281.6h0.8M82.6 275.0h0.8M56.2 273.8h0.8M76.2 280.4h0.8M70.0 275.6h0.8M69.9 275.5h0.8M69.2 275.4h0.8M56.5 276.4h0.8M68.2 278.9h0.8M61.5 280.9h0.8M54.2 271.5h0.8M69.5 277.4h0.8M65.1 276.4h0.8M69.0 278.6h0.8M74.9 274.8h0.8M56.6 277.5h0.8M63.6 276.9h0.8M50.4 279.1h0.8M77.1 279.0h0.8M74.0 279.8h0.8M67.3 279.2h0.8M73.0 279.4h0.8M70.0 277.7h0.8M60.3 279.0h0.8M62.6 279.7h0.8M50.0 283.6h0.8M74.7 282.8h0.8M68.2 274.5h0.8M62.7 274.1h0.8M68.4 277.9h0.8M66.7 271.9h0.8M55.1 270.8h0.8M75.4 279.5h0.8M65.9 276.7h0.8M53.0 276.7h0.8M62.7 275.2h0.8M72.6 271.3h0.8M66.7 280.5h0.8M71.2 273.0h0.8M46.0 282.3h0.8M75.6 277.4h0.8M63.7 279.0h0.8M73.2 278.3h0.8M63.2 278.6h0.8M68.3 284.5h0.8M65.8 274.9h0.8M79.1 282.7h0.8M76.1 274.8h0.8M61.5 273.4h0.8M64.8 282.2h0.8M72.3 278.0h0.8M67.4 279.5h0.8M64.8 274.5h0.8M60.9 283.3h0.8M59.1 274.2h0.8M69.8 276.8h0.8M63.4 278.4h0.8M64.8 272.5h0.8M72.5 278.6h0.8M77.9 280.6h0.8M61.7 276.5h0.8M60.8 270.7h0.8M71.0 275.7h0.8M72.8 278.5h0.8M65.0 283.1h0.8M59.2 283.6h0.8M63.2 284.9h0.8M74.1 276.2h0.8M78.4 279.3h0.8M68.4 276.6h0.8M65.6 276.6h0.8M63.5 280.5h0.8M71.7 281.9h0.8M74.5 277.7h0.8M71.3 277.1h0.8M70.1 279.9h0.8M68.7 275.3h0.8M57.6 283.5h0.8M60.4 275.9h0.8M68.8 276.7h0.8M69.0 282.4h0.8M55.1 278.2h0.8M70.3 273.4h0.8M71.2 282.7h0.8M66.3 279.5h0.8M63.9 281.1h0.8M62.4 278.0h0.8M61.3 275.6h0.8M74.2 277.8h0.8M72.4 272.8h0.8M57.6 275.0h0.8M79.5 281.7h0.8M81.9 276.5h0.8M70.4 279.1h0.8M64.2 279.9h0.8M65.9 279.5h0.8M53.5 274.5h0.8M59.0 283.4h0.8M72.3 274.8h0.8M69.6 276.1h0.8M58.1 274.9h0.8M87.2 278.2h0.8M65.4 282.0h0.8M68.1 274.4h0.8M81.3 285.1h0.8M71.7 275.2h0.8M65.7 278.3h0.8M58.2 286.5h0.8M66.2 276.1h0.8M64.2 276.9h0.8M48.2 278.4h0.8M74.4 278.7h0.8M69.2 277.7h0.8M53.7 279.9h0.8M70.9 274.6h0.8M58.1 276.1h0.8M56.7 269.9h0.8M63.2 276.0h0.8M66.9 281.8h0.8M59.7 272.9h0.8M65.3 280.1h0.8M76.3 281.0h0.8M67.0 278.1h0.8M53.8 280.2h0.8M71.6 277.7h0.8M63.9 279.3h0.8M69.2 279.6h0.8M69.0 273.0h0.8M62.1 272.6h0.8M71.7 286.3h0.8M60.5 277.5h0.8M67.8 275.7h0.8M78.1 278.6h0.8M81.3 285.3h0.8M69.5 275.5h0.8M75.4 277.1h0.8M60.3 277.3h0.8M74.1 275.3h0.8M64.5 280.8h0.8M64.1 280.8h0.8M74.7 276.3h0.8M57.7 274.1h0.8M75.0 279.7h0.8M66.6 276.7h0.8M73.6 276.4h0.8M85.3 279.0h0.8M54.7 281.4h0.8M67.9 277.9h0.8M64.8 281.8h0.8M62.6 283.0h0.8M60.7 280.9h0.8M55.4 281.0h0.8M59.1 277.2h0.8M71.4 275.4h0.8M69.8 277.9h0.8M75.3 280.8h0.8M67.8 277.3h0.8M59.7 282.5h0.8M64.3 273.9h0.8M60.3 271.8h0.8M59.8 276.5h0.8M67.7 280.9h0.8M71.8 272.1h0.8M62.6 279.8h0.8M68.4 277.9h0.8M60.4 280.2h0.8M65.3 277.1h0.8M65.2 277.2h0.8M68.1 281.4h0.8M66.5 275.9h0.8M65.1 277.4h0.8M69.4 280.3h0.8M77.6 280.8h0.8M54.0 275.2h0.8M57.0 278.9h0.8M82.5 279.4h0.8M61.9 282.4h0.8M70.3 275.3h0.8M59.1 282.6h0.8M71.3 271.2h0.8M60.6 279.7h0.8M56.3 277.9h0.8M59.7 272.5h0.8" stroke="#747474" stroke-width="0.85" fill="none" opacity="0.9"/>
<path d="M59.2 275.2h0.8M69.4 267.7h0.8M69.1 276.3h0.8M45.3 286.2h0.8M60.0 281.2h0.8M85.7 281.2h0.8M77.8 279.9h0.8M58.3 279.8h0.8M45.6 281.6h0.8M76.4 281.3h0.8M57.1 270.9h0.8M56.2 276.8h0.8M47.4 290.7h0.8M55.3 279.4h0.8M59.7 279.4h0.8M38.1 272.1h0.8M65.3 278.3h0.8M70.8 275.2h0.8M76.2 280.0h0.8M65.1 278.7h0.8M79.3 278.4h0.8M85.7 279.4h0.8M68.8 278.6h0.8M69.5 281.5h0.8M57.6 283.6h0.8M98.7 282.0h0.8M67.1 273.5h0.8M55.8 273.4h0.8M69.0 274.2h0.8M86.3 275.9h0.8M54.2 272.8h0.8M64.4 277.7h0.8M77.6 274.0h0.8M69.9 284.6h0.8M62.0 267.6h0.8M68.7 285.1h0.8M70.7 278.6h0.8M40.7 288.8h0.8M63.2 271.1h0.8M61.3 279.6h0.8M66.2 272.9h0.8M96.5 286.5h0.8M78.5 282.6h0.8M60.5 271.2h0.8M49.2 285.4h0.8M66.6 288.9h0.8M36.5 287.0h0.8M71.6 275.1h0.8M77.0 274.4h0.8M62.0 281.9h0.8M67.6 280.4h0.8M68.4 285.1h0.8M54.6 265.9h0.8M53.7 263.3h0.8M90.6 274.4h0.8M65.1 280.7h0.8M55.6 275.4h0.8M68.9 278.6h0.8M76.0 277.0h0.8M56.9 269.3h0.8M43.8 280.2h0.8M69.6 276.0h0.8M81.2 261.5h0.8M73.8 271.0h0.8M61.2 277.1h0.8M55.9 276.8h0.8M69.2 293.7h0.8M65.6 283.1h0.8M76.2 272.6h0.8M71.7 276.0h0.8M77.1 274.9h0.8M79.4 272.9h0.8M59.5 283.9h0.8M78.7 284.1h0.8M91.3 285.1h0.8M65.4 284.5h0.8M54.9 283.7h0.8M70.7 277.6h0.8M56.2 285.3h0.8M39.7 277.5h0.8M47.3 276.4h0.8M59.9 273.3h0.8M57.6 280.4h0.8M91.0 289.6h0.8M63.1 275.9h0.8M73.4 273.3h0.8M46.3 284.7h0.8M60.3 288.2h0.8M69.9 269.3h0.8M69.3 281.7h0.8M66.3 269.9h0.8M46.1 290.4h0.8M29.4 272.5h0.8M75.9 290.0h0.8M73.9 278.4h0.8M70.5 285.8h0.8M58.7 286.6h0.8M68.8 279.9h0.8M71.2 280.6h0.8M53.6 288.4h0.8M59.2 276.9h0.8M35.1 268.1h0.8M72.8 278.0h0.8M64.2 276.2h0.8M73.5 274.4h0.8M46.4 268.2h0.8M55.2 280.6h0.8M84.1 282.2h0.8M56.8 270.1h0.8M76.2 281.8h0.8M64.8 282.5h0.8M73.2 281.8h0.8M82.7 268.8h0.8M57.1 275.2h0.8M52.7 291.1h0.8M70.2 281.3h0.8M75.8 277.1h0.8M76.4 277.3h0.8M75.3 282.1h0.8M82.4 268.9h0.8M53.7 273.7h0.8M54.9 281.0h0.8M78.0 276.3h0.8M79.4 284.2h0.8M58.0 282.8h0.8M84.1 275.5h0.8M37.3 282.1h0.8M69.3 282.5h0.8M72.2 278.3h0.8M65.4 273.5h0.8M90.8 288.5h0.8M63.8 273.2h0.8M71.2 288.8h0.8M66.2 273.4h0.8M77.8 280.2h0.8M55.4 277.2h0.8M67.7 271.5h0.8M69.3 286.8h0.8M79.3 286.6h0.8M75.3 278.1h0.8M73.6 286.5h0.8M66.3 282.0h0.8M57.7 278.7h0.8M59.5 271.8h0.8M70.9 292.8h0.8M43.9 275.6h0.8M68.3 273.9h0.8M67.9 284.1h0.8M44.8 278.0h0.8M73.3 282.3h0.8M89.2 280.0h0.8M81.7 275.1h0.8M54.2 275.3h0.8M60.2 284.4h0.8M75.5 278.8h0.8M54.3 279.6h0.8M60.5 276.3h0.8M43.5 288.7h0.8M73.3 297.7h0.8M100.3 279.0h0.8M94.3 276.1h0.8M101.7 278.4h0.8M42.2 278.7h0.8M76.2 289.7h0.8M78.4 290.1h0.8M68.3 269.0h0.8M67.9 273.1h0.8M76.6 265.1h0.8M53.2 271.3h0.8M67.3 285.4h0.8" stroke="#858585" stroke-width="0.8" fill="none" opacity="0.85"/>
<path d="M65.5 297.0h0.8M62.4 284.2h0.8M70.1 305.4h0.8M66.8 310.7h0.8M72.1 288.7h0.8M73.4 310.2h0.8M61.6 297.7h0.8M69.4 299.9h0.8M68.1 308.0h0.8M67.2 281.8h0.8M60.6 299.7h0.8M61.3 297.8h0.8M65.0 289.0h0.8M61.1 283.5h0.8M64.9 286.7h0.8M70.7 290.9h0.8M63.6 300.0h0.8M67.1 309.0h0.8M60.9 287.2h0.8M65.2 307.6h0.8M67.5 280.5h0.8M65.3 292.9h0.8M66.5 285.1h0.8M66.9 305.4h0.8M62.0 295.4h0.8" stroke="#999" stroke-width="0.8" fill="none" opacity="0.75"/>
</g>
<line x1="75.60" y1="250.20" x2="75.60" y2="350.00" stroke="#5a5a5a" stroke-width="0.9" />
<line x1="44.40" y1="307.60" x2="145.60" y2="307.60" stroke="#5a5a5a" stroke-width="0.9" />
<rect x="44.40" y="250.20" width="101.20" height="99.80" fill="none" stroke="#555" stroke-width="1.0" />
<text x="113.4" y="265.1" font-size="10.6" fill="#111" stroke="#111" stroke-width="0.35" textLength="24.8">6.7%</text>
<clipPath id="cp171"><rect x="171" y="249.6" width="102.60000000000002" height="100.4"/></clipPath>
<g clip-path="url(#cp171)">
<path d="M170.0 351.0 L170.0 322.2 L171.0 322.2 L171.6 322.1 L172.7 322.0 L174.4 321.8 L176.6 321.6 L178.9 321.3 L181.3 321.1 L183.8 320.9 L186.2 320.7 L188.8 320.5 L191.2 320.3 L193.8 320.1 L196.2 319.9 L198.6 319.8 L200.7 319.8 L202.6 319.9 L204.4 320.1 L206.0 320.5 L207.5 321.0 L208.9 321.8 L210.1 322.6 L211.3 323.8 L212.4 325.2 L213.5 326.8 L214.5 328.7 L215.3 330.6 L216.1 332.4 L216.6 334.3 L217.0 336.2 L217.2 338.0 L217.2 339.7 L217.0 341.2 L216.6 342.8 L216.2 344.2 L215.8 345.6 L215.4 346.9 L215.0 348.1 L214.7 349.1 L214.5 349.7 L214.4 350.0 L214.4 351.0Z" fill="#6d6d6d" stroke="none" stroke-width="0" />
<path d="M208.4 318.6h0.9M216.7 347.5h0.9M214.2 325.4h0.9M174.8 319.4h0.9M221.1 332.8h0.9M197.4 315.5h0.9M210.5 320.9h0.9M172.0 322.0h0.9M216.5 334.0h0.9M176.0 321.2h0.9M219.0 342.2h0.9M218.1 337.1h0.9M218.8 340.0h0.9M199.5 317.4h0.9M217.7 338.9h0.9M206.7 319.0h0.9M213.4 324.2h0.9M221.7 331.5h0.9M216.7 329.8h0.9M181.5 319.7h0.9M205.8 318.8h0.9M183.7 317.2h0.9M213.7 325.4h0.9M215.6 330.3h0.9M208.5 314.6h0.9M199.4 317.9h0.9M221.0 339.3h0.9M191.4 317.1h0.9M205.6 320.4h0.9M217.7 340.0h0.9M216.1 327.9h0.9M198.1 317.0h0.9M199.6 319.7h0.9M209.8 320.7h0.9M219.4 335.4h0.9M217.1 328.1h0.9M221.3 336.4h0.9M217.0 344.9h0.9M217.8 329.8h0.9M215.6 322.8h0.9M201.0 319.2h0.9M200.2 318.7h0.9M181.1 320.3h0.9M214.3 322.1h0.9M208.0 321.1h0.9M206.6 319.3h0.9M188.9 320.0h0.9M222.0 349.3h0.9M209.3 322.0h0.9M191.3 319.6h0.9M217.7 339.5h0.9M218.1 335.2h0.9M211.0 322.3h0.9M215.0 329.4h0.9M215.5 348.0h0.9M216.1 346.4h0.9M211.9 324.4h0.9M215.9 331.6h0.9M177.9 321.2h0.9M174.4 320.1h0.9M219.8 334.3h0.9M217.4 345.0h0.9M173.9 321.3h0.9M197.3 319.5h0.9M216.2 345.2h0.9M201.5 319.7h0.9M218.1 338.1h0.9M188.2 316.2h0.9M214.3 325.1h0.9M216.2 324.7h0.9M219.9 340.9h0.9M174.1 320.9h0.9M219.5 336.9h0.9M207.0 318.9h0.9M195.1 319.4h0.9M195.1 320.0h0.9M211.4 322.8h0.9M215.0 348.9h0.9M172.6 321.5h0.9M191.3 320.1h0.9M218.3 329.2h0.9M191.4 319.5h0.9M198.9 319.1h0.9M220.1 334.6h0.9M188.4 320.1h0.9M182.0 319.1h0.9M218.2 338.1h0.9M217.5 344.7h0.9M191.3 319.9h0.9M173.7 320.1h0.9M214.8 327.5h0.9M219.5 343.4h0.9M189.2 319.0h0.9M216.8 346.9h0.9M221.2 329.9h0.9M178.9 320.6h0.9M212.8 324.4h0.9M220.5 334.7h0.9M217.6 330.3h0.9M210.5 320.9h0.9M220.1 331.8h0.9M179.0 320.8h0.9M190.0 318.8h0.9M217.3 334.8h0.9M213.7 327.2h0.9M199.4 319.2h0.9M220.6 321.5h0.9M180.1 319.0h0.9M190.1 316.5h0.9M217.5 346.3h0.9M221.7 343.7h0.9M212.6 324.4h0.9M178.3 319.0h0.9M196.2 318.5h0.9M219.9 326.8h0.9M218.8 337.7h0.9M184.7 319.1h0.9M206.6 320.1h0.9M191.9 317.9h0.9M215.4 329.6h0.9M222.9 331.5h0.9M219.6 342.8h0.9M222.2 337.7h0.9M213.1 324.9h0.9M219.1 337.6h0.9M216.8 343.6h0.9M215.7 346.6h0.9M211.9 320.0h0.9M213.3 321.9h0.9M205.1 319.1h0.9M191.8 320.2h0.9M193.2 318.7h0.9M217.6 333.6h0.9M218.5 340.1h0.9M199.0 319.4h0.9M198.4 317.4h0.9M216.8 345.6h0.9M185.0 320.5h0.9M215.1 321.5h0.9M218.7 337.4h0.9M177.4 321.0h0.9M180.9 320.7h0.9M213.7 324.2h0.9M218.1 333.7h0.9M205.6 317.1h0.9M202.2 317.2h0.9M219.6 326.2h0.9M194.9 317.0h0.9M218.2 341.8h0.9M217.7 345.7h0.9M216.1 345.7h0.9M213.2 325.3h0.9M216.5 327.8h0.9M222.7 338.5h0.9M217.6 336.4h0.9M208.7 317.7h0.9M206.7 319.8h0.9M214.1 321.8h0.9M174.4 320.8h0.9M174.3 320.0h0.9M175.4 319.9h0.9M206.0 319.7h0.9M206.1 319.4h0.9M218.0 328.3h0.9M183.7 319.6h0.9M212.8 323.3h0.9M215.8 329.8h0.9M217.2 349.9h0.9M220.5 337.2h0.9M221.2 333.3h0.9M177.9 320.0h0.9M215.8 329.1h0.9M199.3 318.7h0.9M173.5 319.2h0.9M220.0 333.3h0.9M204.5 320.0h0.9M186.3 320.7h0.9M208.8 320.3h0.9M173.0 319.9h0.9M224.1 344.5h0.9M179.8 320.5h0.9M186.3 320.4h0.9M214.7 323.6h0.9M187.7 319.2h0.9M182.0 320.5h0.9M218.1 339.9h0.9M197.6 319.6h0.9M226.6 344.4h0.9M218.2 335.5h0.9M190.9 320.2h0.9M213.3 326.3h0.9M181.0 320.9h0.9M193.3 317.9h0.9M222.2 349.9h0.9M173.5 320.6h0.9M218.5 338.3h0.9M216.5 346.1h0.9M217.0 333.7h0.9M186.8 319.1h0.9M216.4 331.9h0.9M218.9 338.6h0.9M217.1 344.3h0.9M185.9 317.6h0.9M181.0 319.3h0.9M216.4 346.0h0.9M180.3 316.1h0.9M219.2 346.0h0.9M186.0 319.9h0.9M184.2 320.8h0.9M219.6 330.9h0.9M187.5 320.2h0.9M207.8 318.5h0.9M208.8 318.5h0.9M215.1 326.9h0.9M217.9 337.7h0.9M216.7 329.4h0.9M200.6 319.4h0.9M222.5 343.6h0.9M187.7 320.0h0.9M181.3 320.7h0.9M220.9 339.3h0.9M184.3 320.0h0.9M203.9 319.8h0.9M174.4 320.1h0.9M175.0 319.3h0.9M216.4 333.1h0.9M220.1 349.4h0.9M222.1 336.6h0.9M185.5 320.0h0.9M208.4 320.9h0.9" stroke="#727272" stroke-width="0.9" fill="none" opacity="1"/>
<path d="M172.0 345.1h0.8M215.7 345.3h0.8M200.5 320.9h0.8M214.9 339.3h0.8M194.9 320.2h0.8M172.2 347.9h0.8M201.4 320.7h0.8M208.2 321.8h0.8M175.7 322.1h0.8M171.6 347.9h0.8M215.3 345.3h0.8M215.4 332.0h0.8M175.8 321.7h0.8M177.4 321.8h0.8M181.0 321.5h0.8M178.7 321.6h0.8M212.9 326.6h0.8M172.3 339.2h0.8M212.4 348.4h0.8M174.4 322.8h0.8M198.5 321.3h0.8M208.4 324.6h0.8M178.0 322.4h0.8M210.7 326.6h0.8M172.0 341.6h0.8M212.2 325.1h0.8M208.6 322.1h0.8M213.6 327.5h0.8M215.2 345.7h0.8M202.4 322.8h0.8M183.5 321.2h0.8M209.3 322.0h0.8M179.6 322.7h0.8M213.7 327.7h0.8M211.1 326.5h0.8M215.0 346.7h0.8M171.7 350.0h0.8M214.2 330.4h0.8M171.4 341.7h0.8M209.5 322.2h0.8M213.3 345.2h0.8M213.3 326.7h0.8M215.5 332.9h0.8M203.7 320.6h0.8M198.8 321.5h0.8M193.2 320.4h0.8M214.6 333.0h0.8M216.4 334.9h0.8M204.2 322.4h0.8M195.7 321.2h0.8M172.2 335.2h0.8M171.9 349.0h0.8M206.6 321.1h0.8M215.1 347.4h0.8M213.8 329.6h0.8M202.9 320.2h0.8M183.1 321.9h0.8M215.8 333.2h0.8M213.9 329.4h0.8M216.7 337.5h0.8M217.0 338.0h0.8M171.7 338.9h0.8M198.0 319.9h0.8M212.4 327.9h0.8M187.8 322.4h0.8M206.7 321.9h0.8M172.5 338.2h0.8M215.2 342.8h0.8M207.8 321.3h0.8M179.7 321.7h0.8M210.9 325.7h0.8" stroke="#fff" stroke-width="0.8" fill="none" opacity="0.85"/>
<path d="M204.8 297.3h0.8M225.9 323.1h0.8M237.1 309.8h0.8M222.9 309.1h0.8M197.5 315.8h0.8M206.6 313.0h0.8M191.6 303.8h0.8M209.7 318.9h0.8M186.1 320.3h0.8M220.2 315.1h0.8M204.6 301.8h0.8M216.8 307.4h0.8M201.3 309.3h0.8M198.5 316.8h0.8M188.8 302.1h0.8M236.8 304.2h0.8M206.5 318.9h0.8M216.9 319.7h0.8M221.3 304.0h0.8M183.4 316.2h0.8M211.6 295.1h0.8M216.1 312.3h0.8M175.6 319.7h0.8M190.3 307.7h0.8M192.2 316.8h0.8M224.9 300.1h0.8M200.5 311.0h0.8M179.4 292.0h0.8M193.2 310.9h0.8M198.5 307.2h0.8M189.4 316.5h0.8M192.0 309.9h0.8M192.9 313.5h0.8M193.4 315.7h0.8M233.9 306.5h0.8M219.4 310.1h0.8M186.9 310.9h0.8M207.1 304.6h0.8M237.0 314.1h0.8M226.3 325.7h0.8M228.4 315.7h0.8M212.4 297.9h0.8M194.5 309.3h0.8M223.8 308.5h0.8M222.1 299.0h0.8M237.2 307.6h0.8M215.6 304.7h0.8M234.5 298.3h0.8M204.5 317.7h0.8M195.7 313.1h0.8M184.4 318.9h0.8M200.7 316.2h0.8M214.8 320.1h0.8M210.9 310.2h0.8M212.2 307.0h0.8M179.2 316.6h0.8M203.6 303.5h0.8M188.1 316.6h0.8M214.4 306.3h0.8M227.1 316.4h0.8M199.5 302.9h0.8M246.6 288.1h0.8M242.0 308.7h0.8M197.7 309.9h0.8M210.1 318.0h0.8M199.8 311.0h0.8M245.8 298.4h0.8M198.5 313.5h0.8M213.9 313.0h0.8M210.4 317.0h0.8M229.6 320.6h0.8M227.2 318.9h0.8M224.4 308.9h0.8M185.8 310.7h0.8M197.7 319.3h0.8M212.1 321.3h0.8M227.0 300.3h0.8M215.8 309.3h0.8M209.9 319.0h0.8M193.4 300.6h0.8M205.5 316.3h0.8M195.7 307.0h0.8M205.8 314.2h0.8M231.0 309.0h0.8M244.8 316.9h0.8M187.0 300.5h0.8M200.2 309.3h0.8M207.4 313.5h0.8M205.6 308.1h0.8M201.0 314.2h0.8M215.5 321.9h0.8M246.3 318.7h0.8M222.4 298.3h0.8M180.8 300.1h0.8M195.4 303.3h0.8M185.0 313.4h0.8M207.9 320.0h0.8M231.5 310.6h0.8M208.4 316.9h0.8M199.9 305.1h0.8M226.6 316.4h0.8M176.9 295.7h0.8M212.2 311.8h0.8M194.9 316.1h0.8M200.2 302.5h0.8M230.8 307.8h0.8M220.4 307.6h0.8M209.8 309.1h0.8M210.4 314.2h0.8M208.9 301.0h0.8M214.3 311.2h0.8M198.7 299.3h0.8M193.7 303.7h0.8M216.1 312.5h0.8M210.1 313.4h0.8M238.8 317.6h0.8M186.2 311.7h0.8M195.9 311.0h0.8M191.6 298.9h0.8M235.0 303.5h0.8M211.3 320.5h0.8M218.3 324.3h0.8M213.7 314.0h0.8M192.5 308.6h0.8M214.5 316.5h0.8M224.7 312.3h0.8M219.3 301.4h0.8M202.8 305.1h0.8M205.8 306.2h0.8M213.0 305.9h0.8M209.7 311.4h0.8M206.5 315.0h0.8M223.0 311.3h0.8M235.0 307.6h0.8M205.7 305.3h0.8M211.7 302.6h0.8M183.7 305.7h0.8M194.7 307.9h0.8M213.6 312.3h0.8M234.0 311.3h0.8M209.2 314.2h0.8M216.0 308.1h0.8M215.0 312.1h0.8M200.8 307.1h0.8M218.9 317.1h0.8M212.4 309.2h0.8M209.0 303.0h0.8M171.7 308.5h0.8M222.5 320.5h0.8M198.7 310.1h0.8M199.4 314.6h0.8M206.9 314.4h0.8M238.9 315.0h0.8M217.8 311.2h0.8M227.6 308.6h0.8M189.0 316.5h0.8M199.2 311.4h0.8M208.4 315.4h0.8M220.7 307.7h0.8M233.7 310.1h0.8M235.7 309.3h0.8M237.9 314.8h0.8M214.7 301.2h0.8M194.7 304.2h0.8M213.2 298.4h0.8M212.4 290.1h0.8M185.8 301.7h0.8M201.8 315.9h0.8M218.4 303.3h0.8M196.2 306.4h0.8M227.9 316.8h0.8M215.6 304.7h0.8M217.3 315.7h0.8M190.5 314.0h0.8M187.2 298.0h0.8M217.3 331.8h0.8M183.0 306.5h0.8M211.8 310.9h0.8M208.7 306.8h0.8M181.7 299.0h0.8M194.1 307.0h0.8M188.6 305.6h0.8M256.8 317.7h0.8M249.4 317.4h0.8M210.3 315.7h0.8M174.6 309.3h0.8M220.6 305.5h0.8M239.1 308.4h0.8M173.6 313.7h0.8M191.6 306.6h0.8M240.6 318.0h0.8M193.9 316.0h0.8M191.3 309.5h0.8M201.8 312.3h0.8M218.3 307.5h0.8M243.3 317.4h0.8M185.1 313.4h0.8M190.5 302.3h0.8M175.0 298.7h0.8M224.1 318.9h0.8M196.4 309.3h0.8M218.3 314.3h0.8M200.0 308.8h0.8" stroke="#8e8e8e" stroke-width="0.8" fill="none" opacity="0.8"/>
<path d="M195.1 278.6h0.8M199.9 273.9h0.8M198.8 276.7h0.8M204.0 281.8h0.8M192.6 278.8h0.8M196.6 279.4h0.8M193.7 278.5h0.8M191.7 278.4h0.8M204.2 279.9h0.8M205.2 286.3h0.8M199.4 279.4h0.8M197.6 275.0h0.8M195.5 274.2h0.8M187.5 274.9h0.8M205.1 277.1h0.8M205.9 276.9h0.8M201.3 281.4h0.8M202.1 279.3h0.8M198.0 278.0h0.8M193.4 282.7h0.8M197.3 280.4h0.8M199.4 275.3h0.8M192.5 276.6h0.8M204.9 279.4h0.8M201.5 280.2h0.8M195.5 276.5h0.8M202.9 277.9h0.8M198.7 273.5h0.8M194.2 276.2h0.8M190.2 277.9h0.8M203.4 276.0h0.8M199.4 277.8h0.8M203.2 281.2h0.8M191.0 277.6h0.8M197.9 281.7h0.8M204.5 273.2h0.8M203.0 278.8h0.8M199.3 275.4h0.8M205.2 280.8h0.8M190.5 279.4h0.8M210.7 277.8h0.8M200.5 280.6h0.8M197.5 278.5h0.8M193.1 278.0h0.8M200.4 277.0h0.8M201.4 276.3h0.8M194.1 280.8h0.8M195.7 281.0h0.8M195.1 282.1h0.8M201.9 283.0h0.8M190.6 278.2h0.8M191.1 276.0h0.8M199.1 275.3h0.8M196.6 276.3h0.8M204.1 278.6h0.8M191.5 277.1h0.8M193.2 275.9h0.8M206.0 279.0h0.8M203.4 277.3h0.8M194.3 279.5h0.8M193.9 276.5h0.8M194.9 278.1h0.8M197.5 282.2h0.8M187.5 277.8h0.8M203.2 275.0h0.8M197.8 278.3h0.8M196.2 277.0h0.8M207.9 275.4h0.8M199.4 277.7h0.8M197.9 275.4h0.8M201.7 275.4h0.8M202.6 281.0h0.8M205.4 274.0h0.8M198.2 273.4h0.8M196.1 276.1h0.8M202.3 277.1h0.8M202.9 279.6h0.8M194.4 280.8h0.8M205.3 278.9h0.8M194.8 279.6h0.8M197.3 279.5h0.8M191.2 275.9h0.8M206.9 279.1h0.8M195.6 274.2h0.8M197.3 277.3h0.8M198.6 274.4h0.8M211.3 278.0h0.8M207.8 283.7h0.8M204.0 280.8h0.8M206.0 277.0h0.8M196.8 275.0h0.8M192.1 278.6h0.8M199.0 280.8h0.8M195.5 277.6h0.8M202.3 277.2h0.8M204.2 279.0h0.8M202.1 276.1h0.8M201.6 277.1h0.8M206.4 270.7h0.8M197.2 281.5h0.8M199.3 281.8h0.8M199.8 280.5h0.8M193.8 274.2h0.8M193.1 274.6h0.8M193.1 278.5h0.8M196.2 279.5h0.8M191.1 275.2h0.8M190.3 279.1h0.8M194.6 281.7h0.8M207.1 277.1h0.8M204.4 274.1h0.8M192.2 280.3h0.8M198.6 276.5h0.8M207.4 279.4h0.8M199.3 276.8h0.8M205.5 276.8h0.8M199.4 274.8h0.8M197.9 276.5h0.8M202.0 279.6h0.8M200.5 278.6h0.8M205.0 277.0h0.8M197.4 281.9h0.8M201.0 278.4h0.8M195.9 280.3h0.8M193.9 272.3h0.8M194.9 275.9h0.8M203.9 277.5h0.8M195.4 276.7h0.8M204.6 279.5h0.8M197.2 274.0h0.8M202.9 280.3h0.8M202.4 277.4h0.8M199.5 278.4h0.8M199.4 276.4h0.8M198.9 274.0h0.8M198.4 278.9h0.8M197.4 276.8h0.8M192.9 279.9h0.8M196.5 278.0h0.8M191.1 275.7h0.8M194.2 278.4h0.8M196.0 273.8h0.8M206.4 278.8h0.8M202.0 275.2h0.8M198.1 281.3h0.8M189.1 278.2h0.8M200.1 274.6h0.8M206.7 273.4h0.8M195.2 275.6h0.8M197.9 281.2h0.8M190.4 279.2h0.8M202.4 274.9h0.8M210.9 277.4h0.8M194.5 278.9h0.8M193.7 275.7h0.8M202.9 275.9h0.8M202.5 280.4h0.8M193.2 272.1h0.8M193.7 279.8h0.8M196.7 281.0h0.8M189.6 281.6h0.8M198.1 280.5h0.8M200.6 280.1h0.8M193.7 274.1h0.8M201.4 278.2h0.8M190.7 278.3h0.8M201.8 281.0h0.8M203.1 279.2h0.8M190.6 275.3h0.8M196.0 273.3h0.8M195.7 277.7h0.8M203.9 277.6h0.8M195.7 278.6h0.8M194.2 275.6h0.8M197.6 277.5h0.8M206.4 278.4h0.8M195.9 280.7h0.8M203.0 278.9h0.8M195.7 279.7h0.8M200.6 279.4h0.8M199.5 276.8h0.8M200.2 278.4h0.8M201.2 279.0h0.8M189.8 276.4h0.8M202.5 276.4h0.8M199.5 281.5h0.8M208.9 282.0h0.8M202.4 280.3h0.8M201.4 283.2h0.8M199.3 273.6h0.8M194.6 275.4h0.8M188.8 278.2h0.8M193.0 279.8h0.8M205.6 273.8h0.8M203.8 281.0h0.8M193.5 274.0h0.8M208.9 277.9h0.8M200.2 279.4h0.8M198.4 275.2h0.8M199.5 282.9h0.8M198.5 281.5h0.8M197.8 278.4h0.8M196.8 274.7h0.8M207.2 275.3h0.8M201.5 273.3h0.8M198.3 277.6h0.8M197.9 277.1h0.8M200.4 273.5h0.8M202.9 277.5h0.8M199.3 276.1h0.8M196.9 277.6h0.8M203.0 280.5h0.8M199.0 277.8h0.8M201.2 278.0h0.8M197.4 280.6h0.8M185.4 278.2h0.8M203.9 278.7h0.8M189.9 279.9h0.8M193.1 281.9h0.8M197.3 280.3h0.8M188.2 277.5h0.8M200.2 275.0h0.8M196.0 277.5h0.8M196.4 273.4h0.8M196.2 279.1h0.8M200.8 275.2h0.8M207.9 276.0h0.8M198.5 278.2h0.8M196.8 278.7h0.8M191.4 280.5h0.8M209.4 273.2h0.8M204.0 277.5h0.8M196.5 278.7h0.8M197.9 279.7h0.8M204.8 278.0h0.8M193.3 274.7h0.8M194.9 276.8h0.8M199.4 276.0h0.8M191.5 278.4h0.8M203.6 277.4h0.8M196.7 280.5h0.8M199.2 279.1h0.8M203.1 277.3h0.8M191.6 276.0h0.8M205.5 280.9h0.8M199.4 277.0h0.8M200.7 276.0h0.8M190.5 278.3h0.8M199.3 281.4h0.8M199.1 280.0h0.8M205.6 273.1h0.8M189.2 277.3h0.8M196.3 283.2h0.8M198.2 281.0h0.8M191.6 276.1h0.8M199.6 280.9h0.8M193.5 276.9h0.8M208.2 281.3h0.8M202.6 277.7h0.8M200.9 276.9h0.8M189.9 281.1h0.8M205.3 272.8h0.8M194.5 277.1h0.8M200.2 282.7h0.8M198.9 278.0h0.8M194.0 278.7h0.8M201.8 275.8h0.8M202.9 277.9h0.8M199.4 276.4h0.8M206.2 273.8h0.8M194.8 282.9h0.8M193.4 278.4h0.8M199.5 275.1h0.8M200.7 277.9h0.8M191.8 279.2h0.8M203.0 277.0h0.8M202.6 278.3h0.8M209.7 280.1h0.8M198.9 274.1h0.8M204.0 279.6h0.8M195.4 274.3h0.8M197.2 278.8h0.8M204.5 281.8h0.8M200.0 276.9h0.8M203.6 280.0h0.8M199.3 277.5h0.8M201.0 281.1h0.8M211.4 276.0h0.8M202.0 276.6h0.8M194.4 276.8h0.8M199.8 273.3h0.8M201.2 278.9h0.8M193.9 281.0h0.8M200.8 278.9h0.8M199.6 279.3h0.8M207.6 277.5h0.8M207.1 277.3h0.8M201.7 278.9h0.8M203.0 272.4h0.8M195.0 280.1h0.8M200.7 279.3h0.8M195.6 278.9h0.8M197.1 279.6h0.8M186.6 274.3h0.8M204.8 278.9h0.8M196.0 280.5h0.8M198.1 275.9h0.8M201.6 280.5h0.8M196.7 278.5h0.8M206.5 277.6h0.8M198.3 278.3h0.8M199.8 279.3h0.8M197.8 279.7h0.8M201.8 282.2h0.8M191.7 278.2h0.8M196.7 277.0h0.8M193.9 277.8h0.8M197.9 278.9h0.8M205.2 275.1h0.8M201.1 277.7h0.8M203.6 278.5h0.8M192.1 272.8h0.8M200.3 274.8h0.8M202.5 282.8h0.8M198.2 283.8h0.8M198.6 277.0h0.8M199.8 275.7h0.8M203.7 278.7h0.8M198.0 276.7h0.8M195.4 278.7h0.8M191.7 278.0h0.8M190.3 270.7h0.8M195.7 278.9h0.8M209.2 284.6h0.8M207.3 279.4h0.8M196.9 275.4h0.8M196.6 278.0h0.8M196.9 282.3h0.8M195.5 280.8h0.8M198.5 279.6h0.8M191.9 277.7h0.8M196.5 281.3h0.8M202.4 278.6h0.8M189.4 277.6h0.8M198.0 276.9h0.8M201.9 277.1h0.8M200.2 281.1h0.8M206.4 275.7h0.8M191.1 279.3h0.8M199.1 279.3h0.8M193.8 279.6h0.8M198.0 277.0h0.8M194.6 274.2h0.8M187.4 277.7h0.8M204.5 278.5h0.8M209.3 276.9h0.8M205.9 279.7h0.8M199.4 280.7h0.8M188.7 278.1h0.8M194.9 277.4h0.8M200.1 279.3h0.8M191.7 273.2h0.8M204.6 279.3h0.8M196.4 277.1h0.8M200.3 278.7h0.8M204.3 274.5h0.8M195.1 276.9h0.8M196.1 280.7h0.8M205.7 281.6h0.8M204.8 277.2h0.8M196.3 273.1h0.8M198.4 272.2h0.8M199.2 277.3h0.8M196.3 281.5h0.8M201.6 279.4h0.8M205.8 281.6h0.8M196.3 272.4h0.8M202.2 281.1h0.8M203.9 274.2h0.8M199.7 272.5h0.8M201.2 280.1h0.8M197.9 279.5h0.8M200.1 279.0h0.8M196.9 277.4h0.8M199.3 277.9h0.8M195.6 276.6h0.8M197.1 281.5h0.8M194.9 280.7h0.8M204.8 275.8h0.8M192.8 278.3h0.8M196.3 283.1h0.8M199.6 281.9h0.8M196.9 274.8h0.8M200.0 280.0h0.8M202.9 274.9h0.8M206.9 282.0h0.8M210.2 274.9h0.8M197.3 282.5h0.8M198.0 278.2h0.8M193.5 272.8h0.8M200.8 276.1h0.8M203.2 280.4h0.8M203.2 277.4h0.8M201.1 279.9h0.8M203.0 279.7h0.8M204.6 275.1h0.8M206.1 272.9h0.8M201.7 275.7h0.8M195.4 272.8h0.8M199.2 280.2h0.8M196.7 277.0h0.8M191.0 279.3h0.8M197.8 276.5h0.8M184.3 275.9h0.8M196.6 277.6h0.8M186.9 276.4h0.8M204.2 277.7h0.8M204.7 276.5h0.8M195.2 283.5h0.8M200.1 283.4h0.8" stroke="#747474" stroke-width="0.85" fill="none" opacity="0.9"/>
<path d="M207.8 275.7h0.8M203.3 278.6h0.8M202.9 282.7h0.8M176.7 283.0h0.8M187.3 280.1h0.8M197.6 291.0h0.8M196.8 282.5h0.8M197.3 276.2h0.8M196.5 280.7h0.8M214.4 278.6h0.8M213.4 272.6h0.8M196.0 271.2h0.8M192.7 285.6h0.8M200.3 285.0h0.8M189.8 277.9h0.8M187.4 271.8h0.8M198.4 267.7h0.8M208.3 291.3h0.8M186.9 273.1h0.8M195.9 276.0h0.8M207.0 274.3h0.8M216.2 288.0h0.8M199.0 285.1h0.8M199.4 279.8h0.8M201.0 280.5h0.8M208.7 284.9h0.8M188.8 274.9h0.8M187.8 276.6h0.8M189.5 278.2h0.8M193.0 277.5h0.8M188.4 279.0h0.8M194.4 282.1h0.8M199.4 272.8h0.8M189.9 280.4h0.8M194.8 277.6h0.8M194.5 274.7h0.8M214.3 290.4h0.8M205.9 282.3h0.8M202.3 265.8h0.8M191.2 268.2h0.8M207.1 280.3h0.8M193.9 283.9h0.8M206.3 281.1h0.8M189.9 278.6h0.8M190.3 279.7h0.8M200.2 284.2h0.8M208.8 274.5h0.8M214.7 275.4h0.8M195.5 281.1h0.8M202.2 286.5h0.8M207.3 271.9h0.8M179.7 274.5h0.8M205.7 278.4h0.8M190.2 278.9h0.8M222.6 278.3h0.8M198.5 271.1h0.8M181.3 280.1h0.8M209.9 272.3h0.8M211.2 282.6h0.8M213.4 276.5h0.8M190.4 269.9h0.8M186.5 283.2h0.8M202.7 275.7h0.8M207.5 277.7h0.8M191.3 279.3h0.8M189.9 279.5h0.8M201.4 285.8h0.8M190.1 280.3h0.8M210.5 283.4h0.8M193.3 272.1h0.8M201.5 274.9h0.8M199.2 278.1h0.8M210.1 272.4h0.8M196.3 286.6h0.8M194.4 271.6h0.8M190.6 280.4h0.8M206.9 280.3h0.8M186.3 280.6h0.8M198.4 282.5h0.8M193.7 280.1h0.8M191.7 279.8h0.8M205.9 278.4h0.8M215.8 280.3h0.8M196.8 280.6h0.8M190.7 276.3h0.8M200.5 282.2h0.8M204.6 272.1h0.8M201.5 282.8h0.8M194.2 275.7h0.8M197.7 274.7h0.8M203.3 285.3h0.8M202.4 278.8h0.8M188.2 275.4h0.8M193.9 267.9h0.8M212.7 282.6h0.8M196.1 282.7h0.8M200.6 275.8h0.8M208.8 267.2h0.8M214.8 280.8h0.8M202.9 279.2h0.8M191.6 275.8h0.8M205.0 276.8h0.8M199.8 283.1h0.8M196.6 290.4h0.8M175.8 278.7h0.8M191.4 271.2h0.8M188.1 272.1h0.8M199.3 278.1h0.8M192.0 280.9h0.8M198.2 284.7h0.8M188.3 278.5h0.8M213.2 289.7h0.8M190.9 266.5h0.8M199.3 273.4h0.8M200.4 275.6h0.8M195.7 283.0h0.8M213.1 276.4h0.8M190.3 284.4h0.8M189.6 282.2h0.8M197.7 273.5h0.8M211.9 282.2h0.8M197.2 283.2h0.8M197.2 278.5h0.8M205.6 277.3h0.8M223.9 281.4h0.8M189.6 271.1h0.8M209.8 283.8h0.8M193.8 287.5h0.8M197.4 289.4h0.8M188.2 263.8h0.8M194.6 279.4h0.8M197.8 278.2h0.8M201.3 272.3h0.8M188.0 285.5h0.8M190.7 282.9h0.8M200.5 282.2h0.8M192.7 274.6h0.8M194.8 290.3h0.8M209.7 275.0h0.8M211.5 282.1h0.8M194.2 275.2h0.8M207.5 274.3h0.8M183.2 279.8h0.8M193.9 273.0h0.8M187.9 273.6h0.8M197.0 260.5h0.8M193.9 275.2h0.8M190.8 269.7h0.8M214.2 282.5h0.8M198.6 283.5h0.8M210.3 275.5h0.8M201.7 281.9h0.8M225.7 278.8h0.8M183.6 272.4h0.8M190.1 280.8h0.8M218.7 284.8h0.8M194.4 277.5h0.8M187.8 274.0h0.8M183.5 284.9h0.8M205.1 265.0h0.8M215.4 283.7h0.8M224.0 277.2h0.8M205.1 272.5h0.8M188.6 279.2h0.8M205.3 276.5h0.8M224.6 275.4h0.8M196.4 287.0h0.8M197.9 280.4h0.8M203.5 278.1h0.8M194.5 265.9h0.8M179.7 279.6h0.8M193.4 278.0h0.8M202.7 280.7h0.8M199.5 277.2h0.8M201.4 270.8h0.8M200.2 276.1h0.8M196.9 276.5h0.8M206.3 273.5h0.8M201.8 281.1h0.8M201.1 290.0h0.8M194.4 273.7h0.8M183.4 281.4h0.8M207.2 289.4h0.8M203.2 289.0h0.8M188.1 279.8h0.8M206.3 275.2h0.8M216.7 274.7h0.8M200.6 284.4h0.8M206.6 294.2h0.8M188.0 282.9h0.8M195.1 282.2h0.8M186.4 269.2h0.8M203.1 285.0h0.8M191.4 283.1h0.8M186.8 272.6h0.8M176.2 275.5h0.8M204.9 282.9h0.8M195.2 275.8h0.8M202.2 277.2h0.8M200.8 269.9h0.8M182.6 267.6h0.8M211.5 277.4h0.8M205.3 286.0h0.8M189.4 280.5h0.8M199.8 277.8h0.8M194.8 277.4h0.8M195.0 288.5h0.8M184.6 286.0h0.8M195.6 271.4h0.8M201.4 276.9h0.8M209.9 274.5h0.8M191.0 273.1h0.8M201.8 284.8h0.8M207.9 285.1h0.8M198.1 275.6h0.8M198.0 280.1h0.8M184.2 281.3h0.8M183.7 277.5h0.8M195.4 267.7h0.8M183.6 274.9h0.8M184.6 279.5h0.8M208.2 284.2h0.8M197.4 277.7h0.8M201.9 283.1h0.8M212.8 283.2h0.8M202.3 269.7h0.8M200.9 274.2h0.8M189.3 280.2h0.8M209.7 287.3h0.8M188.7 270.6h0.8M200.2 281.1h0.8M195.9 283.0h0.8M192.8 275.6h0.8M199.3 266.0h0.8M207.5 281.5h0.8M208.0 271.3h0.8M197.4 270.0h0.8M186.2 282.7h0.8M189.4 276.9h0.8M204.2 275.6h0.8" stroke="#858585" stroke-width="0.8" fill="none" opacity="0.85"/>
<path d="M199.3 303.1h0.8M198.7 296.4h0.8M201.4 301.9h0.8M202.5 288.9h0.8M202.3 314.9h0.8M203.6 281.5h0.8M197.2 317.0h0.8M207.4 306.9h0.8M200.3 316.3h0.8M199.3 310.4h0.8M197.6 306.2h0.8M198.3 296.2h0.8M200.7 309.8h0.8M202.4 317.2h0.8M200.0 305.9h0.8M196.1 315.7h0.8M206.3 281.4h0.8M200.5 301.2h0.8M203.3 281.9h0.8M196.2 293.6h0.8M196.0 311.4h0.8M199.1 292.4h0.8M201.6 291.8h0.8M192.5 289.4h0.8M202.3 289.1h0.8M199.3 313.5h0.8M199.2 280.5h0.8M195.2 284.6h0.8M199.2 314.3h0.8M199.8 290.6h0.8M198.2 316.9h0.8M198.8 290.1h0.8M200.0 284.4h0.8M197.3 305.9h0.8M203.6 282.4h0.8M196.8 305.8h0.8M203.2 300.2h0.8M197.0 283.6h0.8M203.0 315.9h0.8M207.2 308.6h0.8M197.9 298.4h0.8M197.5 295.7h0.8M199.4 307.0h0.8M205.5 291.4h0.8M192.0 304.3h0.8M195.2 292.9h0.8M195.5 285.5h0.8M198.6 315.8h0.8M202.8 292.6h0.8M204.9 283.7h0.8M205.0 298.4h0.8M202.1 307.8h0.8M196.1 284.1h0.8M198.9 293.9h0.8M197.9 286.6h0.8M197.8 312.7h0.8M201.0 307.2h0.8M199.0 291.8h0.8M201.8 296.3h0.8M200.9 303.5h0.8M197.8 296.0h0.8M201.8 314.0h0.8M196.3 295.0h0.8M193.2 317.3h0.8M197.7 291.9h0.8M201.6 299.9h0.8M199.4 312.0h0.8M203.5 295.2h0.8M197.6 311.0h0.8M203.7 289.7h0.8" stroke="#999" stroke-width="0.8" fill="none" opacity="0.75"/>
</g>
<line x1="198.60" y1="249.60" x2="198.60" y2="350.00" stroke="#5a5a5a" stroke-width="0.9" />
<line x1="171.00" y1="307.60" x2="273.60" y2="307.60" stroke="#5a5a5a" stroke-width="0.9" />
<rect x="171.00" y="249.60" width="102.60" height="100.40" fill="none" stroke="#555" stroke-width="1.0" />
<text x="233.8" y="265.1" font-size="10.6" fill="#111" stroke="#111" stroke-width="0.35" textLength="30.8">39.5%</text>
<clipPath id="cp298"><rect x="298.2" y="249.6" width="101.19999999999999" height="100.4"/></clipPath>
<g clip-path="url(#cp298)">
<path d="M297.2 351.0 L297.2 327.3 L298.0 327.3 L298.2 327.1 L298.8 326.6 L299.5 325.8 L300.5 324.9 L301.8 324.0 L303.2 323.3 L305.0 322.6 L307.0 322.1 L309.1 321.7 L311.4 321.2 L313.8 320.8 L316.2 320.4 L318.8 320.1 L321.2 319.8 L323.8 319.7 L326.2 319.6 L328.6 319.5 L330.7 319.6 L332.6 319.7 L334.4 319.9 L336.0 320.3 L337.6 320.8 L339.0 321.6 L340.4 322.4 L341.6 323.5 L342.7 324.8 L343.8 326.3 L344.7 328.0 L345.4 329.8 L346.0 331.7 L346.5 333.7 L346.9 335.8 L347.1 338.1 L347.2 340.5 L347.1 343.1 L346.9 345.9 L346.8 347.9 L346.7 349.3 L346.6 350.0 L346.6 351.0Z" fill="#6d6d6d" stroke="none" stroke-width="0" />
<path d="M305.2 320.7h0.9M343.6 322.1h0.9M339.4 320.9h0.9M302.1 322.9h0.9M348.1 338.0h0.9M338.0 320.4h0.9M320.1 318.6h0.9M323.8 319.5h0.9M314.5 319.1h0.9M310.5 319.9h0.9M348.8 345.2h0.9M338.4 320.2h0.9M342.4 321.3h0.9M347.3 342.3h0.9M319.7 319.0h0.9M347.5 340.6h0.9M349.2 326.8h0.9M351.2 341.6h0.9M354.9 324.7h0.9M335.8 319.5h0.9M347.4 344.2h0.9M349.6 338.7h0.9M319.1 319.7h0.9M346.8 333.6h0.9M346.3 330.3h0.9M348.4 343.6h0.9M347.7 337.3h0.9M344.6 326.4h0.9M311.4 319.0h0.9M317.3 319.4h0.9M347.4 333.4h0.9M313.0 320.4h0.9M347.5 329.9h0.9M333.8 313.9h0.9M350.1 344.9h0.9M351.6 337.7h0.9M348.6 342.6h0.9M348.8 348.6h0.9M350.6 339.3h0.9M347.9 340.3h0.9M342.0 323.6h0.9M347.5 343.0h0.9M348.4 332.0h0.9M348.6 348.9h0.9M348.9 341.8h0.9M347.9 349.2h0.9M353.5 335.2h0.9M350.6 338.3h0.9M347.1 325.9h0.9M335.8 320.0h0.9M347.5 334.7h0.9M348.4 313.4h0.9M304.3 321.7h0.9M317.8 318.2h0.9M309.1 321.6h0.9M320.8 318.5h0.9M303.8 320.6h0.9M347.6 345.4h0.9M343.0 325.2h0.9M340.4 322.4h0.9M333.7 319.4h0.9M325.0 319.6h0.9M318.1 320.0h0.9M359.1 340.1h0.9M352.2 343.8h0.9M301.7 320.4h0.9M337.4 320.3h0.9M338.9 320.4h0.9M310.6 320.3h0.9M348.4 344.3h0.9M342.6 323.3h0.9M346.9 333.7h0.9M312.6 313.2h0.9M312.8 320.0h0.9M346.9 322.5h0.9M347.0 335.0h0.9M307.8 320.2h0.9M331.9 317.5h0.9M325.8 318.7h0.9M339.9 321.9h0.9M349.6 345.2h0.9M346.9 326.2h0.9M351.3 344.4h0.9M306.5 321.6h0.9M333.1 317.4h0.9M299.5 324.8h0.9M348.0 341.7h0.9M304.8 321.9h0.9M347.0 335.4h0.9M304.5 321.1h0.9M346.7 334.3h0.9M354.4 342.6h0.9M310.2 321.2h0.9M346.8 347.8h0.9M349.3 342.1h0.9M347.6 332.3h0.9M332.3 319.3h0.9M344.1 326.9h0.9M350.9 347.0h0.9M343.9 324.3h0.9M298.6 324.3h0.9M347.8 335.4h0.9M349.1 346.6h0.9M298.8 325.2h0.9M298.5 326.4h0.9M343.7 325.3h0.9M344.5 327.3h0.9M347.1 338.5h0.9M320.1 319.0h0.9M346.8 331.8h0.9M345.8 328.7h0.9M302.5 323.1h0.9M309.2 320.7h0.9M346.0 328.9h0.9M357.3 350.0h0.9M333.5 317.5h0.9M338.5 320.5h0.9M347.1 331.5h0.9M298.8 321.2h0.9M323.9 319.6h0.9M349.0 341.1h0.9M302.8 316.0h0.9M327.6 319.3h0.9M347.4 341.0h0.9M335.9 318.6h0.9M318.7 319.1h0.9M348.5 335.3h0.9M298.7 325.6h0.9M308.0 320.2h0.9M309.2 320.5h0.9M312.0 320.5h0.9M345.0 326.7h0.9M348.9 343.4h0.9M349.8 349.0h0.9M347.0 349.2h0.9M347.4 340.2h0.9M352.9 325.0h0.9M349.6 340.2h0.9M350.2 341.0h0.9M300.4 323.3h0.9M341.9 321.5h0.9M317.7 312.8h0.9M352.6 311.0h0.9M339.7 320.8h0.9M320.2 319.6h0.9M324.8 319.1h0.9M348.9 340.2h0.9M318.4 318.3h0.9M348.1 336.1h0.9M348.5 346.6h0.9M351.5 348.2h0.9M306.2 321.2h0.9M333.4 319.0h0.9M312.1 321.0h0.9M303.5 322.3h0.9M333.1 319.7h0.9M328.1 319.1h0.9M331.1 318.1h0.9M333.4 319.0h0.9M315.7 320.4h0.9M341.8 320.1h0.9M326.2 319.1h0.9M322.6 318.2h0.9M305.5 322.0h0.9M308.5 319.8h0.9M328.5 317.5h0.9M304.8 320.9h0.9M340.2 322.0h0.9M326.3 319.0h0.9M301.6 322.8h0.9M347.8 333.2h0.9M349.7 333.6h0.9M349.6 339.9h0.9M339.9 320.9h0.9M310.9 317.9h0.9M350.3 335.1h0.9M349.1 333.0h0.9M347.4 348.4h0.9M347.8 349.0h0.9M339.7 321.5h0.9M314.2 318.5h0.9M337.4 320.7h0.9M346.9 349.8h0.9M309.9 321.3h0.9M346.9 326.3h0.9M328.8 317.1h0.9M329.3 319.1h0.9M316.7 318.5h0.9M348.1 349.1h0.9M329.1 317.4h0.9M349.7 343.6h0.9M347.8 336.9h0.9M347.0 333.1h0.9M346.9 347.6h0.9M309.1 320.7h0.9M305.8 310.9h0.9M347.4 333.2h0.9M340.9 321.5h0.9M355.9 329.9h0.9M348.2 321.1h0.9M316.8 320.1h0.9M327.3 319.2h0.9M329.1 316.4h0.9M349.1 344.4h0.9M348.3 327.8h0.9M324.1 319.3h0.9M314.8 319.0h0.9M349.5 341.8h0.9M313.3 320.6h0.9M323.6 318.3h0.9M352.8 322.6h0.9M344.8 324.6h0.9M349.3 336.2h0.9M347.4 329.3h0.9M322.1 314.6h0.9M318.7 314.9h0.9M340.3 322.2h0.9M346.4 327.9h0.9M347.2 343.4h0.9M301.7 321.8h0.9M324.3 317.0h0.9M340.0 321.3h0.9M306.5 321.3h0.9M309.8 319.8h0.9M323.4 318.3h0.9M348.8 329.1h0.9M314.5 319.9h0.9M356.8 334.1h0.9M348.6 338.8h0.9M352.8 334.9h0.9M330.4 319.2h0.9M308.2 318.8h0.9M347.7 327.9h0.9M350.3 338.6h0.9M348.5 345.6h0.9M326.2 316.5h0.9M331.8 319.2h0.9M344.0 321.4h0.9M304.7 321.9h0.9M334.1 318.6h0.9M340.2 320.2h0.9M331.7 316.6h0.9M307.8 320.0h0.9M349.3 349.1h0.9M349.5 328.4h0.9M346.2 329.9h0.9M342.3 322.1h0.9M349.9 328.6h0.9M326.5 318.7h0.9M349.3 321.7h0.9M328.9 315.0h0.9M354.2 341.1h0.9M314.4 320.1h0.9M341.8 323.2h0.9M348.7 338.6h0.9M320.2 318.3h0.9M343.7 326.1h0.9M346.7 335.0h0.9M349.1 342.7h0.9M347.6 347.9h0.9M347.6 345.0h0.9M348.8 336.4h0.9M317.2 318.3h0.9M336.4 313.7h0.9" stroke="#727272" stroke-width="0.9" fill="none" opacity="1"/>
<path d="M346.4 343.2h0.8M300.5 325.0h0.8M314.2 324.5h0.8M346.2 349.4h0.8M337.5 321.1h0.8M346.3 346.4h0.8M346.4 338.4h0.8M335.6 320.8h0.8M308.2 322.2h0.8M315.3 321.2h0.8M343.7 328.2h0.8M314.0 320.9h0.8M304.2 325.0h0.8M310.9 321.9h0.8M334.9 320.7h0.8M315.7 323.4h0.8M311.1 321.6h0.8M312.3 321.6h0.8M331.9 319.7h0.8M298.6 346.5h0.8M318.2 320.5h0.8M298.4 327.3h0.8M300.0 337.7h0.8M344.8 331.1h0.8M346.2 349.1h0.8M347.0 339.8h0.8M327.5 320.2h0.8M326.8 320.1h0.8M345.8 341.1h0.8M333.5 321.2h0.8M298.5 340.6h0.8M309.5 323.1h0.8M307.4 325.5h0.8M321.8 320.0h0.8M327.0 320.6h0.8M298.8 343.8h0.8M343.1 326.7h0.8M298.5 343.8h0.8M321.0 320.4h0.8M346.4 336.9h0.8M316.3 321.1h0.8M300.8 341.2h0.8M299.1 326.4h0.8M298.8 341.2h0.8M323.5 321.1h0.8M340.3 324.0h0.8M325.8 319.7h0.8M298.8 335.1h0.8M315.2 320.7h0.8M298.4 332.6h0.8M299.3 337.7h0.8M299.3 345.0h0.8M298.8 348.9h0.8M346.4 344.8h0.8M298.2 346.0h0.8M336.8 321.9h0.8M325.1 319.9h0.8M345.2 329.5h0.8" stroke="#fff" stroke-width="0.8" fill="none" opacity="0.85"/>
<path d="M310.7 318.6h0.8M331.6 297.5h0.8M319.6 319.8h0.8M344.1 308.9h0.8M347.0 319.5h0.8M331.8 309.4h0.8M309.8 319.2h0.8M330.6 316.1h0.8M311.4 317.3h0.8M344.9 309.1h0.8M338.0 318.2h0.8M319.0 312.4h0.8M327.6 311.9h0.8M335.3 314.7h0.8M324.1 310.9h0.8M345.6 307.3h0.8M327.8 313.9h0.8M321.9 318.4h0.8M310.9 308.0h0.8M322.1 310.7h0.8M320.7 314.8h0.8M314.1 316.5h0.8M358.5 309.3h0.8M336.6 303.2h0.8M324.7 311.0h0.8M338.3 305.1h0.8M353.0 304.4h0.8M301.9 318.9h0.8M318.6 309.6h0.8M327.8 303.7h0.8M335.3 299.6h0.8M314.9 307.3h0.8M319.3 313.4h0.8M342.8 299.7h0.8M311.9 306.5h0.8M307.7 320.0h0.8M325.4 312.8h0.8M310.5 312.0h0.8M327.0 312.1h0.8M332.7 301.8h0.8M332.9 312.2h0.8M316.8 299.4h0.8M313.4 299.9h0.8M307.8 307.0h0.8M330.2 309.1h0.8M320.4 315.8h0.8M330.7 312.4h0.8M342.6 315.2h0.8M314.5 304.1h0.8M364.9 319.8h0.8M328.9 307.3h0.8M330.1 295.7h0.8M332.0 302.7h0.8M325.3 309.6h0.8M316.8 304.9h0.8M353.6 313.3h0.8M310.7 310.0h0.8M328.0 311.4h0.8M329.8 314.4h0.8M322.6 301.8h0.8M326.1 311.3h0.8M313.6 317.8h0.8M302.8 308.8h0.8M309.2 306.1h0.8M325.7 315.4h0.8M334.3 297.6h0.8M364.5 313.5h0.8M335.5 303.3h0.8M308.0 310.9h0.8M356.1 306.0h0.8M317.7 316.2h0.8M331.7 304.8h0.8M324.0 304.3h0.8M307.4 307.8h0.8M321.9 311.8h0.8M310.7 321.3h0.8M347.6 300.4h0.8M341.3 296.3h0.8M364.5 311.8h0.8M335.2 310.6h0.8M341.3 320.2h0.8M332.9 315.2h0.8M331.3 314.1h0.8M321.7 310.3h0.8M345.9 308.6h0.8M329.9 316.6h0.8M323.2 310.8h0.8M366.0 317.9h0.8M343.7 304.8h0.8M345.5 302.5h0.8M337.8 318.9h0.8M338.0 308.5h0.8M339.7 303.5h0.8M302.0 302.5h0.8M339.5 311.4h0.8M304.7 314.3h0.8M304.0 301.0h0.8M313.9 315.0h0.8M322.5 301.1h0.8M316.4 308.7h0.8M317.9 308.0h0.8M334.9 310.3h0.8M323.9 292.2h0.8M351.3 308.3h0.8M308.7 310.5h0.8M303.3 306.3h0.8M343.4 312.2h0.8M328.4 309.5h0.8M327.5 301.6h0.8M322.6 314.2h0.8M303.0 296.8h0.8M328.1 312.4h0.8M339.1 315.5h0.8M328.8 309.9h0.8M363.4 317.1h0.8M301.4 303.3h0.8M320.1 304.7h0.8M330.8 304.8h0.8M330.5 303.5h0.8M325.4 308.2h0.8M300.9 305.7h0.8M340.2 310.9h0.8M347.5 310.8h0.8M298.6 305.5h0.8M320.2 304.5h0.8M336.8 308.4h0.8M343.8 311.3h0.8M321.3 311.9h0.8M336.1 313.8h0.8M360.5 319.5h0.8M329.0 318.8h0.8M309.5 318.4h0.8M328.1 311.9h0.8M328.9 308.6h0.8M299.2 319.5h0.8M315.1 302.8h0.8M323.4 310.8h0.8M349.3 315.4h0.8M331.2 313.1h0.8M320.1 305.4h0.8M305.0 300.9h0.8M328.9 305.3h0.8M313.0 312.1h0.8M331.5 305.1h0.8M344.9 315.3h0.8M339.8 304.5h0.8M343.1 312.1h0.8M319.1 310.8h0.8M323.8 310.0h0.8M298.5 316.6h0.8M328.4 310.1h0.8M336.7 316.8h0.8M317.3 312.1h0.8M331.2 299.6h0.8M347.3 311.3h0.8M306.9 321.3h0.8M349.7 301.1h0.8M329.7 312.9h0.8M329.0 297.2h0.8M349.3 318.9h0.8M339.7 320.8h0.8M348.6 305.0h0.8M345.3 322.3h0.8M312.2 307.6h0.8M312.3 318.4h0.8M343.3 312.1h0.8M329.3 300.7h0.8M331.7 305.8h0.8M339.3 302.5h0.8M307.0 303.6h0.8M351.5 311.7h0.8M338.4 310.4h0.8M346.2 307.2h0.8M333.1 308.1h0.8M329.3 313.2h0.8M329.3 311.7h0.8M338.4 314.1h0.8M350.2 315.8h0.8M324.8 311.1h0.8M328.7 313.8h0.8M318.8 305.3h0.8M336.4 314.7h0.8M337.5 303.9h0.8M326.2 309.9h0.8M335.7 319.8h0.8M317.7 305.6h0.8M327.3 317.5h0.8M315.4 313.6h0.8M335.4 307.5h0.8M321.0 314.9h0.8M335.6 293.9h0.8M346.9 306.0h0.8M324.8 308.9h0.8M329.8 313.2h0.8M353.5 304.8h0.8M329.5 308.3h0.8M306.7 319.0h0.8M336.2 306.5h0.8M337.3 316.3h0.8M315.6 311.2h0.8M340.5 306.8h0.8M339.9 295.5h0.8M312.1 310.3h0.8M335.3 307.3h0.8M335.9 297.8h0.8M313.6 309.1h0.8M313.1 316.1h0.8M315.7 307.4h0.8M298.9 320.9h0.8M331.8 318.0h0.8M337.9 307.0h0.8M305.6 312.0h0.8M324.7 315.5h0.8M365.8 319.2h0.8M332.7 312.0h0.8M326.1 301.2h0.8M326.0 307.1h0.8M306.9 310.1h0.8M356.4 308.3h0.8M319.9 310.3h0.8M313.1 309.8h0.8M342.6 310.7h0.8M336.0 306.7h0.8M314.1 319.8h0.8M321.8 306.3h0.8M373.4 316.5h0.8M345.0 325.8h0.8M341.7 306.8h0.8M362.7 314.4h0.8M314.7 308.0h0.8M331.2 303.2h0.8M338.5 310.6h0.8M342.7 312.4h0.8M346.5 318.5h0.8" stroke="#8e8e8e" stroke-width="0.8" fill="none" opacity="0.8"/>
<path d="M330.2 280.5h0.8M332.6 280.9h0.8M334.5 278.9h0.8M330.5 282.0h0.8M336.6 278.3h0.8M333.3 276.4h0.8M333.3 278.2h0.8M331.0 278.0h0.8M331.5 276.7h0.8M333.3 281.0h0.8M334.4 282.1h0.8M332.5 281.6h0.8M335.9 278.0h0.8M330.5 276.7h0.8M333.0 284.1h0.8M328.3 280.0h0.8M334.2 282.1h0.8M333.2 278.7h0.8M329.8 274.4h0.8M334.6 279.1h0.8M331.0 278.7h0.8M335.9 278.4h0.8M333.4 281.6h0.8M330.8 280.5h0.8M331.3 280.7h0.8M329.9 284.0h0.8M334.2 280.6h0.8M333.0 276.1h0.8M333.1 279.7h0.8M336.4 279.1h0.8M334.2 273.3h0.8M329.4 276.2h0.8M331.2 277.0h0.8M335.7 281.0h0.8M334.8 277.9h0.8M329.5 281.0h0.8M330.2 282.1h0.8M335.9 280.2h0.8M334.8 276.2h0.8M333.2 280.4h0.8M334.6 277.9h0.8M330.7 279.0h0.8M329.1 281.0h0.8M332.7 281.6h0.8M331.2 277.6h0.8M331.8 276.0h0.8M334.7 277.0h0.8M334.8 279.9h0.8M332.2 279.3h0.8M329.3 281.5h0.8M332.7 279.8h0.8M332.9 278.8h0.8M331.9 278.4h0.8M332.7 279.0h0.8M333.5 276.3h0.8M328.3 281.7h0.8M333.9 280.6h0.8M332.3 280.7h0.8M332.2 276.4h0.8M332.4 279.9h0.8M329.9 284.9h0.8M334.0 282.3h0.8M333.6 277.9h0.8M330.6 279.5h0.8M330.3 283.3h0.8M329.4 279.7h0.8M331.0 280.1h0.8M332.6 281.6h0.8M335.0 277.8h0.8M331.8 284.1h0.8M328.7 281.9h0.8M333.6 279.2h0.8M331.2 277.5h0.8M335.6 279.6h0.8M332.4 279.9h0.8M330.8 282.5h0.8M333.8 282.3h0.8M331.9 282.6h0.8M335.1 282.0h0.8M332.5 278.2h0.8M330.9 281.7h0.8M335.1 279.5h0.8M333.6 280.3h0.8M335.5 282.1h0.8M333.1 279.6h0.8M335.1 280.4h0.8M334.6 277.5h0.8M330.6 278.6h0.8M332.8 282.4h0.8M332.8 279.8h0.8M333.3 280.1h0.8M336.0 282.4h0.8M331.2 281.6h0.8M337.6 283.3h0.8M332.6 284.9h0.8M330.9 279.0h0.8M330.4 281.7h0.8M331.6 280.9h0.8M336.2 278.2h0.8M332.0 279.5h0.8M336.1 280.4h0.8M333.9 274.6h0.8M332.6 279.2h0.8M327.7 279.4h0.8M332.5 280.6h0.8M330.2 282.3h0.8M336.5 283.9h0.8M333.0 281.7h0.8M330.3 281.0h0.8M333.3 282.5h0.8M337.5 279.6h0.8M335.0 279.6h0.8M330.6 279.8h0.8M328.3 276.8h0.8M333.3 276.9h0.8M330.9 282.5h0.8M333.2 278.1h0.8M334.4 281.3h0.8M328.4 278.8h0.8M333.7 275.5h0.8" stroke="#747474" stroke-width="0.85" fill="none" opacity="0.9"/>
<path d="M331.3 275.7h0.8M336.1 293.7h0.8M328.2 281.4h0.8M326.4 285.8h0.8M330.6 274.0h0.8M333.0 283.4h0.8M334.9 268.2h0.8M332.6 279.6h0.8M334.9 263.4h0.8M332.8 281.5h0.8M326.6 284.8h0.8M336.7 283.7h0.8M331.5 274.1h0.8M332.8 272.0h0.8M337.8 286.1h0.8M321.6 287.2h0.8M328.9 278.8h0.8M320.6 283.9h0.8M330.8 277.7h0.8M325.2 288.7h0.8M332.8 284.9h0.8M320.7 277.9h0.8M334.8 268.9h0.8M336.7 263.2h0.8M329.9 277.7h0.8M339.0 280.4h0.8M323.8 281.7h0.8M328.1 285.3h0.8M340.9 278.1h0.8M347.4 275.1h0.8M333.2 284.6h0.8M330.7 287.9h0.8M332.3 284.7h0.8M331.3 282.6h0.8M335.4 273.7h0.8M323.1 290.6h0.8M337.7 278.1h0.8M328.6 288.1h0.8M338.5 278.1h0.8M333.6 284.3h0.8M336.4 283.5h0.8M334.8 282.1h0.8M338.6 285.1h0.8M331.9 279.8h0.8M330.4 282.8h0.8M339.4 271.3h0.8M324.5 273.4h0.8M334.8 280.7h0.8M328.2 281.6h0.8M322.5 284.3h0.8M342.2 287.3h0.8M332.6 285.4h0.8M333.4 299.7h0.8M336.0 298.4h0.8M336.4 280.4h0.8M327.3 276.0h0.8M331.3 282.1h0.8M336.7 279.1h0.8M337.2 292.4h0.8M334.6 278.4h0.8M317.9 287.4h0.8M336.8 300.6h0.8M327.0 285.5h0.8M326.2 273.9h0.8M330.1 283.1h0.8M335.5 276.2h0.8M337.4 288.3h0.8M334.6 276.9h0.8M333.5 277.0h0.8M334.5 273.4h0.8M323.0 288.2h0.8M332.2 282.1h0.8M334.2 273.2h0.8M341.1 289.3h0.8M325.6 281.3h0.8M329.4 280.4h0.8M328.8 276.3h0.8M335.6 271.1h0.8M330.9 288.7h0.8M331.1 278.2h0.8M324.2 294.4h0.8M336.8 285.9h0.8M335.4 281.3h0.8M324.0 273.4h0.8M338.6 281.6h0.8M344.7 285.7h0.8M330.4 290.8h0.8M331.1 291.0h0.8M322.9 273.4h0.8M329.6 278.2h0.8M334.4 278.3h0.8M342.9 277.9h0.8M337.0 286.9h0.8M343.2 286.0h0.8M326.1 276.1h0.8M325.9 286.7h0.8M338.5 278.2h0.8M329.2 278.9h0.8M336.9 281.3h0.8M328.5 276.3h0.8M330.6 283.9h0.8M340.5 272.7h0.8M339.5 273.9h0.8M331.6 290.8h0.8M329.8 288.4h0.8M332.8 280.0h0.8M342.3 269.0h0.8M335.2 281.3h0.8M328.2 276.0h0.8M328.1 272.7h0.8M333.6 269.9h0.8M326.5 288.2h0.8M335.2 282.9h0.8M333.9 284.3h0.8M340.5 290.8h0.8M326.9 264.7h0.8M331.0 284.0h0.8M328.2 276.3h0.8M341.1 289.4h0.8M337.5 278.3h0.8M322.4 277.4h0.8M329.1 283.6h0.8M339.9 285.7h0.8M323.0 290.8h0.8M323.5 283.7h0.8M332.6 274.0h0.8M339.3 287.6h0.8M334.8 286.1h0.8M322.6 269.3h0.8M332.2 286.3h0.8M328.1 285.7h0.8M335.0 271.5h0.8M335.9 279.5h0.8M336.5 279.8h0.8M329.7 278.0h0.8M324.4 286.1h0.8M328.4 293.1h0.8M335.2 282.1h0.8M334.1 294.2h0.8M332.9 277.3h0.8M334.9 281.7h0.8M327.8 284.1h0.8M340.8 287.2h0.8M332.3 296.7h0.8M342.7 279.1h0.8M338.3 282.2h0.8M341.0 287.7h0.8M336.0 274.1h0.8M339.1 279.5h0.8M327.0 271.3h0.8M332.5 286.3h0.8M337.2 289.2h0.8M333.1 289.3h0.8M335.1 285.2h0.8M333.0 277.7h0.8M332.6 281.9h0.8M325.1 275.7h0.8M338.0 278.9h0.8M325.6 269.4h0.8M325.0 273.3h0.8M338.3 273.5h0.8M324.8 278.4h0.8M322.3 289.3h0.8M330.6 288.8h0.8M333.2 277.1h0.8M333.1 279.1h0.8M338.8 288.6h0.8M325.9 277.5h0.8M330.6 284.2h0.8M340.9 288.4h0.8" stroke="#858585" stroke-width="0.8" fill="none" opacity="0.85"/>
<path d="M331.3 303.7h0.8M330.8 317.9h0.8M329.6 286.1h0.8M333.3 293.4h0.8M333.7 301.8h0.8M340.1 287.6h0.8M336.8 288.9h0.8M331.1 300.1h0.8M331.7 298.5h0.8M330.8 313.9h0.8M331.2 298.5h0.8M330.3 296.5h0.8M334.0 301.0h0.8M329.7 289.5h0.8M333.9 288.4h0.8M336.2 315.0h0.8M336.1 316.9h0.8M331.1 311.8h0.8M336.0 285.4h0.8M330.2 294.0h0.8M331.3 292.3h0.8M332.0 288.4h0.8M329.3 304.9h0.8M339.5 317.4h0.8M337.6 296.2h0.8M330.9 310.4h0.8M334.9 293.0h0.8M335.4 282.7h0.8M334.1 315.8h0.8M331.7 315.8h0.8M338.4 286.1h0.8M330.9 282.0h0.8M335.9 313.1h0.8M336.9 288.2h0.8M332.0 313.5h0.8M332.3 302.9h0.8M337.4 300.6h0.8M338.0 282.9h0.8M338.1 309.5h0.8M333.5 295.5h0.8M331.4 283.2h0.8M327.1 286.8h0.8M329.4 308.2h0.8M336.9 282.5h0.8M329.9 292.4h0.8M336.8 288.8h0.8M327.4 296.8h0.8M339.6 291.0h0.8M332.2 309.3h0.8M331.3 300.6h0.8M329.5 310.0h0.8M333.7 297.6h0.8M331.6 312.5h0.8M332.1 318.4h0.8M336.7 303.3h0.8M333.9 290.6h0.8M335.0 290.5h0.8M333.5 317.3h0.8M327.4 284.1h0.8M330.0 319.4h0.8M332.9 315.6h0.8M331.3 302.9h0.8M325.5 291.9h0.8M330.2 302.7h0.8M327.4 303.1h0.8M331.6 302.6h0.8M328.2 297.6h0.8M335.9 312.6h0.8M336.6 301.7h0.8M330.5 294.2h0.8" stroke="#999" stroke-width="0.8" fill="none" opacity="0.75"/>
</g>
<line x1="329.40" y1="249.60" x2="329.40" y2="350.00" stroke="#5a5a5a" stroke-width="0.9" />
<line x1="298.20" y1="307.60" x2="399.40" y2="307.60" stroke="#5a5a5a" stroke-width="0.9" />
<rect x="298.20" y="249.60" width="101.20" height="100.40" fill="none" stroke="#555" stroke-width="1.0" />
<text x="359" y="265.1" font-size="10.6" fill="#111" stroke="#111" stroke-width="0.35" textLength="31.4">75.0%</text>
</g>
<g id="D">
<text transform="translate(1.20,415.00) scale(0.96,1)" font-size="25.2" font-weight="bold" fill="#000" stroke="#000" stroke-width="0.7" stroke-linejoin="round">D</text>
<line x1="53.80" y1="414.30" x2="53.80" y2="524.10" stroke="#444" stroke-width="1" />
<line x1="53.30" y1="523.60" x2="198.54" y2="523.60" stroke="#444" stroke-width="1" />
<line x1="51.20" y1="523.60" x2="53.80" y2="523.60" stroke="#444" stroke-width="0.9" />
<text transform="translate(50.10,526.65) scale(0.9,1)" font-size="8.8" text-anchor="end" fill="#161616" stroke="#161616" stroke-width="0.3">0</text>
<line x1="52.30" y1="514.49" x2="53.80" y2="514.49" stroke="#444" stroke-width="0.7" />
<line x1="51.20" y1="505.38" x2="53.80" y2="505.38" stroke="#444" stroke-width="0.9" />
<text transform="translate(50.10,508.43) scale(0.9,1)" font-size="8.8" text-anchor="end" fill="#161616" stroke="#161616" stroke-width="0.3">200</text>
<line x1="52.30" y1="496.27" x2="53.80" y2="496.27" stroke="#444" stroke-width="0.7" />
<line x1="51.20" y1="487.17" x2="53.80" y2="487.17" stroke="#444" stroke-width="0.9" />
<text transform="translate(50.10,490.22) scale(0.9,1)" font-size="8.8" text-anchor="end" fill="#161616" stroke="#161616" stroke-width="0.3">400</text>
<line x1="52.30" y1="478.06" x2="53.80" y2="478.06" stroke="#444" stroke-width="0.7" />
<line x1="51.20" y1="468.95" x2="53.80" y2="468.95" stroke="#444" stroke-width="0.9" />
<text transform="translate(50.10,472.00) scale(0.9,1)" font-size="8.8" text-anchor="end" fill="#161616" stroke="#161616" stroke-width="0.3">600</text>
<line x1="52.30" y1="459.84" x2="53.80" y2="459.84" stroke="#444" stroke-width="0.7" />
<line x1="51.20" y1="450.73" x2="53.80" y2="450.73" stroke="#444" stroke-width="0.9" />
<text transform="translate(50.10,453.78) scale(0.9,1)" font-size="8.8" text-anchor="end" fill="#161616" stroke="#161616" stroke-width="0.3">800</text>
<line x1="52.30" y1="441.62" x2="53.80" y2="441.62" stroke="#444" stroke-width="0.7" />
<line x1="51.20" y1="432.52" x2="53.80" y2="432.52" stroke="#444" stroke-width="0.9" />
<text transform="translate(50.10,435.57) scale(0.9,1)" font-size="8.8" text-anchor="end" fill="#161616" stroke="#161616" stroke-width="0.3">1000</text>
<line x1="52.30" y1="423.41" x2="53.80" y2="423.41" stroke="#444" stroke-width="0.7" />
<line x1="51.20" y1="414.30" x2="53.80" y2="414.30" stroke="#444" stroke-width="0.9" />
<text transform="translate(50.10,417.35) scale(0.9,1)" font-size="8.8" text-anchor="end" fill="#161616" stroke="#161616" stroke-width="0.3">1200</text>
<line x1="53.80" y1="523.60" x2="53.80" y2="526.20" stroke="#444" stroke-width="0.9" />
<text x="53.80" y="535.00" font-size="8.4" text-anchor="middle" font-weight="normal" font-style="normal" fill="#161616"  stroke="#161616" stroke-width="0.36">0</text>
<line x1="65.82" y1="523.60" x2="65.82" y2="525.10" stroke="#444" stroke-width="0.7" />
<line x1="77.84" y1="523.60" x2="77.84" y2="526.20" stroke="#444" stroke-width="0.9" />
<text x="77.84" y="535.00" font-size="8.4" text-anchor="middle" font-weight="normal" font-style="normal" fill="#161616"  stroke="#161616" stroke-width="0.36">10</text>
<line x1="89.86" y1="523.60" x2="89.86" y2="525.10" stroke="#444" stroke-width="0.7" />
<line x1="101.88" y1="523.60" x2="101.88" y2="526.20" stroke="#444" stroke-width="0.9" />
<text x="101.88" y="535.00" font-size="8.4" text-anchor="middle" font-weight="normal" font-style="normal" fill="#161616"  stroke="#161616" stroke-width="0.36">20</text>
<line x1="113.90" y1="523.60" x2="113.90" y2="525.10" stroke="#444" stroke-width="0.7" />
<line x1="125.92" y1="523.60" x2="125.92" y2="526.20" stroke="#444" stroke-width="0.9" />
<text x="125.92" y="535.00" font-size="8.4" text-anchor="middle" font-weight="normal" font-style="normal" fill="#161616"  stroke="#161616" stroke-width="0.36">30</text>
<line x1="137.94" y1="523.60" x2="137.94" y2="525.10" stroke="#444" stroke-width="0.7" />
<line x1="149.96" y1="523.60" x2="149.96" y2="526.20" stroke="#444" stroke-width="0.9" />
<text x="149.96" y="535.00" font-size="8.4" text-anchor="middle" font-weight="normal" font-style="normal" fill="#161616"  stroke="#161616" stroke-width="0.36">40</text>
<line x1="161.98" y1="523.60" x2="161.98" y2="525.10" stroke="#444" stroke-width="0.7" />
<line x1="174.00" y1="523.60" x2="174.00" y2="526.20" stroke="#444" stroke-width="0.9" />
<text x="174.00" y="535.00" font-size="8.4" text-anchor="middle" font-weight="normal" font-style="normal" fill="#161616"  stroke="#161616" stroke-width="0.36">50</text>
<line x1="186.02" y1="523.60" x2="186.02" y2="525.10" stroke="#444" stroke-width="0.7" />
<line x1="198.04" y1="523.60" x2="198.04" y2="526.20" stroke="#444" stroke-width="0.9" />
<text x="198.04" y="535.00" font-size="8.4" text-anchor="middle" font-weight="normal" font-style="normal" fill="#161616"  stroke="#161616" stroke-width="0.36">60</text>
<text transform="translate(27.20,511.00) rotate(-90)" font-size="12" text-anchor="start" font-weight="normal" fill="#111" stroke="#111" stroke-width="0.35">CD4 T cells (/&#956;l)</text>
<text x="62.4" y="419.4" font-size="8.4" fill="#161616" stroke="#161616" stroke-width="0.3"><tspan font-style="italic">r</tspan> = -0.546</text>
<text x="107" y="419.4" font-size="8.4" fill="#161616" stroke="#161616" stroke-width="0.3"><tspan font-style="italic">P</tspan> &lt;.001</text>
<text x="91.8" y="550.6" font-size="11.6" fill="#111" stroke="#111" stroke-width="0.3" textLength="68.6">% PD-1<tspan font-size="5.6" dy="-6.4">+</tspan><tspan dy="6.4">CD8</tspan><tspan font-size="5.6" dy="-6.4">+</tspan></text>
<rect x="59.75" y="452.55" width="3.70" height="3.70" fill="#fff" stroke="#4a4a4a" stroke-width="0.75" />
<rect x="62.55" y="449.75" width="3.70" height="3.70" fill="#fff" stroke="#4a4a4a" stroke-width="0.75" />
<rect x="68.55" y="453.75" width="3.70" height="3.70" fill="#fff" stroke="#4a4a4a" stroke-width="0.75" />
<rect x="70.15" y="435.75" width="3.70" height="3.70" fill="#fff" stroke="#4a4a4a" stroke-width="0.75" />
<rect x="73.75" y="440.55" width="3.70" height="3.70" fill="#fff" stroke="#4a4a4a" stroke-width="0.75" />
<rect x="77.55" y="438.15" width="3.70" height="3.70" fill="#fff" stroke="#4a4a4a" stroke-width="0.75" />
<rect x="77.75" y="441.35" width="3.70" height="3.70" fill="#fff" stroke="#4a4a4a" stroke-width="0.75" />
<rect x="79.75" y="446.75" width="3.70" height="3.70" fill="#fff" stroke="#4a4a4a" stroke-width="0.75" />
<rect x="83.75" y="445.55" width="3.70" height="3.70" fill="#fff" stroke="#4a4a4a" stroke-width="0.75" />
<rect x="85.55" y="449.75" width="3.70" height="3.70" fill="#fff" stroke="#4a4a4a" stroke-width="0.75" />
<rect x="69.75" y="461.15" width="3.70" height="3.70" fill="#fff" stroke="#4a4a4a" stroke-width="0.75" />
<rect x="78.15" y="464.15" width="3.70" height="3.70" fill="#fff" stroke="#4a4a4a" stroke-width="0.75" />
<rect x="84.15" y="463.55" width="3.70" height="3.70" fill="#fff" stroke="#4a4a4a" stroke-width="0.75" />
<rect x="77.55" y="468.75" width="3.70" height="3.70" fill="#fff" stroke="#4a4a4a" stroke-width="0.75" />
<rect x="86.15" y="474.75" width="3.70" height="3.70" fill="#fff" stroke="#4a4a4a" stroke-width="0.75" />
<rect x="119.75" y="445.55" width="3.70" height="3.70" fill="#fff" stroke="#4a4a4a" stroke-width="0.75" />
<rect x="107.55" y="469.55" width="3.70" height="3.70" fill="#fff" stroke="#4a4a4a" stroke-width="0.75" />
<circle cx="71.0" cy="496.0" r="1.95" fill="#fff" stroke="#4a4a4a" stroke-width="0.75"/>
<circle cx="78.6" cy="490.6" r="1.95" fill="#fff" stroke="#4a4a4a" stroke-width="0.75"/>
<circle cx="84.0" cy="492.4" r="1.95" fill="#fff" stroke="#4a4a4a" stroke-width="0.75"/>
<circle cx="89.6" cy="494.0" r="1.95" fill="#fff" stroke="#4a4a4a" stroke-width="0.75"/>
<circle cx="84.0" cy="500.0" r="1.95" fill="#fff" stroke="#4a4a4a" stroke-width="0.75"/>
<circle cx="87.0" cy="504.0" r="1.95" fill="#fff" stroke="#4a4a4a" stroke-width="0.75"/>
<circle cx="91.4" cy="501.6" r="1.95" fill="#fff" stroke="#4a4a4a" stroke-width="0.75"/>
<circle cx="91.6" cy="508.6" r="1.95" fill="#fff" stroke="#4a4a4a" stroke-width="0.75"/>
<circle cx="77.3" cy="515.6" r="1.95" fill="#fff" stroke="#4a4a4a" stroke-width="0.75"/>
<circle cx="99.6" cy="507.0" r="1.95" fill="#fff" stroke="#4a4a4a" stroke-width="0.75"/>
<circle cx="99.8" cy="485.0" r="1.95" fill="#fff" stroke="#4a4a4a" stroke-width="0.75"/>
<circle cx="106.0" cy="480.0" r="1.95" fill="#fff" stroke="#4a4a4a" stroke-width="0.75"/>
<circle cx="106.4" cy="482.6" r="1.95" fill="#fff" stroke="#4a4a4a" stroke-width="0.75"/>
<circle cx="105.4" cy="487.0" r="1.95" fill="#fff" stroke="#4a4a4a" stroke-width="0.75"/>
<circle cx="110.6" cy="484.0" r="1.95" fill="#fff" stroke="#4a4a4a" stroke-width="0.75"/>
<circle cx="136.0" cy="492.4" r="1.95" fill="#fff" stroke="#4a4a4a" stroke-width="0.75"/>
<circle cx="139.6" cy="497.4" r="1.95" fill="#fff" stroke="#4a4a4a" stroke-width="0.75"/>
<circle cx="157.0" cy="492.6" r="1.95" fill="#fff" stroke="#4a4a4a" stroke-width="0.75"/>
<circle cx="131.6" cy="502.6" r="1.95" fill="#fff" stroke="#4a4a4a" stroke-width="0.75"/>
<circle cx="114.4" cy="505.6" r="1.95" fill="#fff" stroke="#4a4a4a" stroke-width="0.75"/>
<circle cx="137.6" cy="507.4" r="1.95" fill="#fff" stroke="#4a4a4a" stroke-width="0.75"/>
<circle cx="141.6" cy="505.0" r="1.95" fill="#fff" stroke="#4a4a4a" stroke-width="0.75"/>
<circle cx="159.4" cy="504.0" r="1.95" fill="#fff" stroke="#4a4a4a" stroke-width="0.75"/>
<circle cx="180.6" cy="505.0" r="1.95" fill="#fff" stroke="#4a4a4a" stroke-width="0.75"/>
<circle cx="149.6" cy="515.6" r="1.95" fill="#fff" stroke="#4a4a4a" stroke-width="0.75"/>
<line x1="53.80" y1="455.60" x2="193.00" y2="513.40" stroke="#222" stroke-width="1.0" />
</g>
<g id="E">
<text transform="translate(252.20,415.00) scale(0.92,1)" font-size="25.2" font-weight="bold" fill="#000" stroke="#000" stroke-width="0.7" stroke-linejoin="round">E</text>
<line x1="302.90" y1="414.30" x2="302.90" y2="524.30" stroke="#444" stroke-width="1" />
<line x1="302.40" y1="523.80" x2="442.20" y2="523.80" stroke="#444" stroke-width="1" />
<line x1="300.30" y1="523.80" x2="302.90" y2="523.80" stroke="#444" stroke-width="0.9" />
<text transform="translate(299.20,526.85) scale(0.9,1)" font-size="8.8" text-anchor="end" fill="#161616" stroke="#161616" stroke-width="0.3">0</text>
<line x1="301.40" y1="514.67" x2="302.90" y2="514.67" stroke="#444" stroke-width="0.7" />
<line x1="300.30" y1="505.55" x2="302.90" y2="505.55" stroke="#444" stroke-width="0.9" />
<text transform="translate(299.20,508.60) scale(0.9,1)" font-size="8.8" text-anchor="end" fill="#161616" stroke="#161616" stroke-width="0.3">200</text>
<line x1="301.40" y1="496.42" x2="302.90" y2="496.42" stroke="#444" stroke-width="0.7" />
<line x1="300.30" y1="487.30" x2="302.90" y2="487.30" stroke="#444" stroke-width="0.9" />
<text transform="translate(299.20,490.35) scale(0.9,1)" font-size="8.8" text-anchor="end" fill="#161616" stroke="#161616" stroke-width="0.3">400</text>
<line x1="301.40" y1="478.17" x2="302.90" y2="478.17" stroke="#444" stroke-width="0.7" />
<line x1="300.30" y1="469.05" x2="302.90" y2="469.05" stroke="#444" stroke-width="0.9" />
<text transform="translate(299.20,472.10) scale(0.9,1)" font-size="8.8" text-anchor="end" fill="#161616" stroke="#161616" stroke-width="0.3">600</text>
<line x1="301.40" y1="459.92" x2="302.90" y2="459.92" stroke="#444" stroke-width="0.7" />
<line x1="300.30" y1="450.80" x2="302.90" y2="450.80" stroke="#444" stroke-width="0.9" />
<text transform="translate(299.20,453.85) scale(0.9,1)" font-size="8.8" text-anchor="end" fill="#161616" stroke="#161616" stroke-width="0.3">800</text>
<line x1="301.40" y1="441.68" x2="302.90" y2="441.68" stroke="#444" stroke-width="0.7" />
<line x1="300.30" y1="432.55" x2="302.90" y2="432.55" stroke="#444" stroke-width="0.9" />
<text transform="translate(299.20,435.60) scale(0.9,1)" font-size="8.8" text-anchor="end" fill="#161616" stroke="#161616" stroke-width="0.3">1000</text>
<line x1="301.40" y1="423.43" x2="302.90" y2="423.43" stroke="#444" stroke-width="0.7" />
<line x1="300.30" y1="414.30" x2="302.90" y2="414.30" stroke="#444" stroke-width="0.9" />
<text transform="translate(299.20,417.35) scale(0.9,1)" font-size="8.8" text-anchor="end" fill="#161616" stroke="#161616" stroke-width="0.3">1200</text>
<line x1="302.90" y1="523.80" x2="302.90" y2="526.40" stroke="#444" stroke-width="0.9" />
<text x="302.90" y="535.20" font-size="8.4" text-anchor="middle" font-weight="normal" font-style="normal" fill="#161616"  stroke="#161616" stroke-width="0.36">0</text>
<line x1="320.25" y1="523.80" x2="320.25" y2="525.30" stroke="#444" stroke-width="0.7" />
<line x1="337.60" y1="523.80" x2="337.60" y2="526.40" stroke="#444" stroke-width="0.9" />
<text x="337.60" y="535.20" font-size="8.4" text-anchor="middle" font-weight="normal" font-style="normal" fill="#161616"  stroke="#161616" stroke-width="0.36">20</text>
<line x1="354.95" y1="523.80" x2="354.95" y2="525.30" stroke="#444" stroke-width="0.7" />
<line x1="372.30" y1="523.80" x2="372.30" y2="526.40" stroke="#444" stroke-width="0.9" />
<text x="372.30" y="535.20" font-size="8.4" text-anchor="middle" font-weight="normal" font-style="normal" fill="#161616"  stroke="#161616" stroke-width="0.36">40</text>
<line x1="389.65" y1="523.80" x2="389.65" y2="525.30" stroke="#444" stroke-width="0.7" />
<line x1="407.00" y1="523.80" x2="407.00" y2="526.40" stroke="#444" stroke-width="0.9" />
<text x="407.00" y="535.20" font-size="8.4" text-anchor="middle" font-weight="normal" font-style="normal" fill="#161616"  stroke="#161616" stroke-width="0.36">60</text>
<line x1="424.35" y1="523.80" x2="424.35" y2="525.30" stroke="#444" stroke-width="0.7" />
<line x1="441.70" y1="523.80" x2="441.70" y2="526.40" stroke="#444" stroke-width="0.9" />
<text x="441.70" y="535.20" font-size="8.4" text-anchor="middle" font-weight="normal" font-style="normal" fill="#161616"  stroke="#161616" stroke-width="0.36">80</text>
<text transform="translate(277.00,510.80) rotate(-90)" font-size="12" text-anchor="start" font-weight="normal" fill="#111" stroke="#111" stroke-width="0.35">CD4 T cells (/&#956;l)</text>
<text x="311.6" y="419.6" font-size="8.4" fill="#161616" stroke="#161616" stroke-width="0.3"><tspan font-style="italic">r</tspan> =-0.690</text>
<text x="351.6" y="419.6" font-size="8.4" fill="#161616" stroke="#161616" stroke-width="0.3"><tspan font-style="italic">P</tspan> =.001</text>
<text x="341.0" y="551.0" font-size="11.6" fill="#111" stroke="#111" stroke-width="0.3" textLength="63.6">% PD-1<tspan font-size="5.6" dy="-6.4">+</tspan><tspan dy="6.4">Pen</tspan><tspan font-size="5.6" dy="-6.4">+</tspan></text>
<rect x="323.15" y="438.75" width="3.70" height="3.70" fill="#fff" stroke="#4a4a4a" stroke-width="0.75" />
<rect x="327.75" y="440.55" width="3.70" height="3.70" fill="#fff" stroke="#4a4a4a" stroke-width="0.75" />
<rect x="322.15" y="450.15" width="3.70" height="3.70" fill="#fff" stroke="#4a4a4a" stroke-width="0.75" />
<rect x="328.15" y="461.15" width="3.70" height="3.70" fill="#fff" stroke="#4a4a4a" stroke-width="0.75" />
<rect x="312.55" y="464.55" width="3.70" height="3.70" fill="#fff" stroke="#4a4a4a" stroke-width="0.75" />
<rect x="362.55" y="469.75" width="3.70" height="3.70" fill="#fff" stroke="#4a4a4a" stroke-width="0.75" />
<circle cx="335.6" cy="492.6" r="1.95" fill="#fff" stroke="#4a4a4a" stroke-width="0.75"/>
<circle cx="353.0" cy="463.6" r="1.95" fill="#fff" stroke="#4a4a4a" stroke-width="0.75"/>
<circle cx="371.4" cy="480.0" r="1.95" fill="#fff" stroke="#4a4a4a" stroke-width="0.75"/>
<circle cx="377.6" cy="482.4" r="1.95" fill="#fff" stroke="#4a4a4a" stroke-width="0.75"/>
<circle cx="374.6" cy="492.0" r="1.95" fill="#fff" stroke="#4a4a4a" stroke-width="0.75"/>
<circle cx="365.0" cy="496.4" r="1.95" fill="#fff" stroke="#4a4a4a" stroke-width="0.75"/>
<circle cx="360.6" cy="502.0" r="1.95" fill="#fff" stroke="#4a4a4a" stroke-width="0.75"/>
<circle cx="356.0" cy="507.4" r="1.95" fill="#fff" stroke="#4a4a4a" stroke-width="0.75"/>
<circle cx="366.6" cy="509.0" r="1.95" fill="#fff" stroke="#4a4a4a" stroke-width="0.75"/>
<circle cx="397.4" cy="491.0" r="1.95" fill="#fff" stroke="#4a4a4a" stroke-width="0.75"/>
<circle cx="396.4" cy="515.6" r="1.95" fill="#fff" stroke="#4a4a4a" stroke-width="0.75"/>
<circle cx="420.4" cy="507.6" r="1.95" fill="#fff" stroke="#4a4a4a" stroke-width="0.75"/>
<circle cx="429.0" cy="506.0" r="1.95" fill="#fff" stroke="#4a4a4a" stroke-width="0.75"/>
<circle cx="433.0" cy="505.2" r="1.95" fill="#fff" stroke="#4a4a4a" stroke-width="0.75"/>
<line x1="302.90" y1="451.20" x2="441.60" y2="515.60" stroke="#222" stroke-width="1.0" />
</g>
<g id="F">
<text transform="translate(1.60,570.00) scale(0.9,1)" font-size="25.2" font-weight="bold" fill="#000" stroke="#000" stroke-width="0.7" stroke-linejoin="round">F</text>
<line x1="52.60" y1="573.20" x2="52.60" y2="685.00" stroke="#444" stroke-width="1" />
<line x1="52.10" y1="684.50" x2="198.90" y2="684.50" stroke="#444" stroke-width="1" />
<line x1="50.00" y1="684.50" x2="52.60" y2="684.50" stroke="#444" stroke-width="0.9" />
<text x="45.6" y="687.9" font-size="8.0" text-anchor="end" fill="#161616" stroke="#161616" stroke-width="0.3">10</text>
<text x="46.0" y="683.3" font-size="5.4" fill="#161616" stroke="#161616" stroke-width="0.25">2</text>
<line x1="50.00" y1="662.24" x2="52.60" y2="662.24" stroke="#444" stroke-width="0.9" />
<text x="45.6" y="665.6" font-size="8.0" text-anchor="end" fill="#161616" stroke="#161616" stroke-width="0.3">10</text>
<text x="46.0" y="661.0" font-size="5.4" fill="#161616" stroke="#161616" stroke-width="0.25">3</text>
<line x1="50.00" y1="639.98" x2="52.60" y2="639.98" stroke="#444" stroke-width="0.9" />
<text x="45.6" y="643.4" font-size="8.0" text-anchor="end" fill="#161616" stroke="#161616" stroke-width="0.3">10</text>
<text x="46.0" y="638.8" font-size="5.4" fill="#161616" stroke="#161616" stroke-width="0.25">4</text>
<line x1="50.00" y1="617.72" x2="52.60" y2="617.72" stroke="#444" stroke-width="0.9" />
<text x="45.6" y="621.1" font-size="8.0" text-anchor="end" fill="#161616" stroke="#161616" stroke-width="0.3">10</text>
<text x="46.0" y="616.5" font-size="5.4" fill="#161616" stroke="#161616" stroke-width="0.25">5</text>
<line x1="50.00" y1="595.46" x2="52.60" y2="595.46" stroke="#444" stroke-width="0.9" />
<text x="45.6" y="598.9" font-size="8.0" text-anchor="end" fill="#161616" stroke="#161616" stroke-width="0.3">10</text>
<text x="46.0" y="594.3" font-size="5.4" fill="#161616" stroke="#161616" stroke-width="0.25">6</text>
<line x1="50.00" y1="573.20" x2="52.60" y2="573.20" stroke="#444" stroke-width="0.9" />
<text x="45.6" y="576.6" font-size="8.0" text-anchor="end" fill="#161616" stroke="#161616" stroke-width="0.3">10</text>
<text x="46.0" y="572.0" font-size="5.4" fill="#161616" stroke="#161616" stroke-width="0.25">7</text>
<line x1="52.60" y1="684.50" x2="52.60" y2="687.10" stroke="#444" stroke-width="0.9" />
<text x="52.60" y="695.90" font-size="8.4" text-anchor="middle" font-weight="normal" font-style="normal" fill="#161616"  stroke="#161616" stroke-width="0.36">0</text>
<line x1="64.75" y1="684.50" x2="64.75" y2="686.00" stroke="#444" stroke-width="0.7" />
<line x1="76.90" y1="684.50" x2="76.90" y2="687.10" stroke="#444" stroke-width="0.9" />
<text x="76.90" y="695.90" font-size="8.4" text-anchor="middle" font-weight="normal" font-style="normal" fill="#161616"  stroke="#161616" stroke-width="0.36">10</text>
<line x1="89.05" y1="684.50" x2="89.05" y2="686.00" stroke="#444" stroke-width="0.7" />
<line x1="101.20" y1="684.50" x2="101.20" y2="687.10" stroke="#444" stroke-width="0.9" />
<text x="101.20" y="695.90" font-size="8.4" text-anchor="middle" font-weight="normal" font-style="normal" fill="#161616"  stroke="#161616" stroke-width="0.36">20</text>
<line x1="113.35" y1="684.50" x2="113.35" y2="686.00" stroke="#444" stroke-width="0.7" />
<line x1="125.50" y1="684.50" x2="125.50" y2="687.10" stroke="#444" stroke-width="0.9" />
<text x="125.50" y="695.90" font-size="8.4" text-anchor="middle" font-weight="normal" font-style="normal" fill="#161616"  stroke="#161616" stroke-width="0.36">30</text>
<line x1="137.65" y1="684.50" x2="137.65" y2="686.00" stroke="#444" stroke-width="0.7" />
<line x1="149.80" y1="684.50" x2="149.80" y2="687.10" stroke="#444" stroke-width="0.9" />
<text x="149.80" y="695.90" font-size="8.4" text-anchor="middle" font-weight="normal" font-style="normal" fill="#161616"  stroke="#161616" stroke-width="0.36">40</text>
<line x1="161.95" y1="684.50" x2="161.95" y2="686.00" stroke="#444" stroke-width="0.7" />
<line x1="174.10" y1="684.50" x2="174.10" y2="687.10" stroke="#444" stroke-width="0.9" />
<text x="174.10" y="695.90" font-size="8.4" text-anchor="middle" font-weight="normal" font-style="normal" fill="#161616"  stroke="#161616" stroke-width="0.36">50</text>
<line x1="186.25" y1="684.50" x2="186.25" y2="686.00" stroke="#444" stroke-width="0.7" />
<line x1="198.40" y1="684.50" x2="198.40" y2="687.10" stroke="#444" stroke-width="0.9" />
<text x="198.40" y="695.90" font-size="8.4" text-anchor="middle" font-weight="normal" font-style="normal" fill="#161616"  stroke="#161616" stroke-width="0.36">60</text>
<text transform="translate(29.60,683.40) rotate(-90)" font-size="11.8" text-anchor="start" font-weight="normal" fill="#111" stroke="#111" stroke-width="0.35" textLength="49.6">Viral Load</text>
<text transform="translate(29.60,628.00) rotate(-90)" font-size="11.8" text-anchor="start" font-weight="normal" fill="#111" stroke="#111" stroke-width="0.35" textLength="57.8">(copies/ml)</text>
<text x="62" y="578.4" font-size="8.4" fill="#161616" stroke="#161616" stroke-width="0.3"><tspan font-style="italic">r</tspan> = 0.701</text>
<text x="103" y="578.4" font-size="8.4" fill="#161616" stroke="#161616" stroke-width="0.3"><tspan font-style="italic">P</tspan> &lt;.001</text>
<text x="91.8" y="711.3" font-size="11.6" fill="#111" stroke="#111" stroke-width="0.3" textLength="68.6">% PD-1<tspan font-size="5.6" dy="-6.4">+</tspan><tspan dy="6.4">CD8</tspan><tspan font-size="5.6" dy="-6.4">+</tspan></text>
<rect x="58.55" y="667.45" width="3.70" height="3.70" fill="#fff" stroke="#4a4a4a" stroke-width="0.75" />
<rect x="61.55" y="667.45" width="3.70" height="3.70" fill="#fff" stroke="#4a4a4a" stroke-width="0.75" />
<rect x="67.75" y="667.45" width="3.70" height="3.70" fill="#fff" stroke="#4a4a4a" stroke-width="0.75" />
<rect x="70.15" y="667.45" width="3.70" height="3.70" fill="#fff" stroke="#4a4a4a" stroke-width="0.75" />
<rect x="72.55" y="667.45" width="3.70" height="3.70" fill="#fff" stroke="#4a4a4a" stroke-width="0.75" />
<rect x="75.15" y="667.45" width="3.70" height="3.70" fill="#fff" stroke="#4a4a4a" stroke-width="0.75" />
<rect x="77.55" y="667.45" width="3.70" height="3.70" fill="#fff" stroke="#4a4a4a" stroke-width="0.75" />
<rect x="80.15" y="667.45" width="3.70" height="3.70" fill="#fff" stroke="#4a4a4a" stroke-width="0.75" />
<rect x="82.55" y="667.45" width="3.70" height="3.70" fill="#fff" stroke="#4a4a4a" stroke-width="0.75" />
<rect x="85.15" y="667.45" width="3.70" height="3.70" fill="#fff" stroke="#4a4a4a" stroke-width="0.75" />
<rect x="106.75" y="667.45" width="3.70" height="3.70" fill="#fff" stroke="#4a4a4a" stroke-width="0.75" />
<rect x="119.15" y="667.45" width="3.70" height="3.70" fill="#fff" stroke="#4a4a4a" stroke-width="0.75" />
<circle cx="76.4" cy="616.6" r="1.95" fill="#fff" stroke="#4a4a4a" stroke-width="0.75"/>
<circle cx="91.0" cy="619.6" r="1.95" fill="#fff" stroke="#4a4a4a" stroke-width="0.75"/>
<circle cx="83.4" cy="624.4" r="1.95" fill="#fff" stroke="#4a4a4a" stroke-width="0.75"/>
<circle cx="83.4" cy="635.0" r="1.95" fill="#fff" stroke="#4a4a4a" stroke-width="0.75"/>
<circle cx="99.4" cy="631.0" r="1.95" fill="#fff" stroke="#4a4a4a" stroke-width="0.75"/>
<circle cx="77.4" cy="646.4" r="1.95" fill="#fff" stroke="#4a4a4a" stroke-width="0.75"/>
<circle cx="86.4" cy="643.6" r="1.95" fill="#fff" stroke="#4a4a4a" stroke-width="0.75"/>
<circle cx="89.0" cy="643.0" r="1.95" fill="#fff" stroke="#4a4a4a" stroke-width="0.75"/>
<circle cx="70.0" cy="653.4" r="1.95" fill="#fff" stroke="#4a4a4a" stroke-width="0.75"/>
<circle cx="110.0" cy="582.4" r="1.95" fill="#fff" stroke="#4a4a4a" stroke-width="0.75"/>
<circle cx="99.4" cy="599.0" r="1.95" fill="#fff" stroke="#4a4a4a" stroke-width="0.75"/>
<circle cx="113.6" cy="595.4" r="1.95" fill="#fff" stroke="#4a4a4a" stroke-width="0.75"/>
<circle cx="105.6" cy="604.6" r="1.95" fill="#fff" stroke="#4a4a4a" stroke-width="0.75"/>
<circle cx="131.4" cy="595.6" r="1.95" fill="#fff" stroke="#4a4a4a" stroke-width="0.75"/>
<circle cx="137.4" cy="597.0" r="1.95" fill="#fff" stroke="#4a4a4a" stroke-width="0.75"/>
<circle cx="135.6" cy="599.0" r="1.95" fill="#fff" stroke="#4a4a4a" stroke-width="0.75"/>
<circle cx="157.0" cy="593.4" r="1.95" fill="#fff" stroke="#4a4a4a" stroke-width="0.75"/>
<circle cx="149.6" cy="601.6" r="1.95" fill="#fff" stroke="#4a4a4a" stroke-width="0.75"/>
<circle cx="181.0" cy="599.0" r="1.95" fill="#fff" stroke="#4a4a4a" stroke-width="0.75"/>
<circle cx="159.4" cy="613.4" r="1.95" fill="#fff" stroke="#4a4a4a" stroke-width="0.75"/>
<circle cx="105.0" cy="621.4" r="1.95" fill="#fff" stroke="#4a4a4a" stroke-width="0.75"/>
<circle cx="141.4" cy="621.4" r="1.95" fill="#fff" stroke="#4a4a4a" stroke-width="0.75"/>
<circle cx="139.4" cy="628.0" r="1.95" fill="#fff" stroke="#4a4a4a" stroke-width="0.75"/>
<circle cx="135.6" cy="636.4" r="1.95" fill="#fff" stroke="#4a4a4a" stroke-width="0.75"/>
<circle cx="105.4" cy="651.4" r="1.95" fill="#fff" stroke="#4a4a4a" stroke-width="0.75"/>
<line x1="52.60" y1="668.40" x2="193.40" y2="576.60" stroke="#222" stroke-width="1.0" />
</g>
<g id="G">
<text transform="translate(247.40,570.00) scale(0.98,1)" font-size="25.2" font-weight="bold" fill="#000" stroke="#000" stroke-width="0.7" stroke-linejoin="round">G</text>
<line x1="303.70" y1="573.80" x2="303.70" y2="684.30" stroke="#444" stroke-width="1" />
<line x1="303.20" y1="683.80" x2="444.36" y2="683.80" stroke="#444" stroke-width="1" />
<line x1="301.10" y1="683.80" x2="303.70" y2="683.80" stroke="#444" stroke-width="0.9" />
<text x="296.7" y="687.2" font-size="8.0" text-anchor="end" fill="#161616" stroke="#161616" stroke-width="0.3">10</text>
<text x="297.1" y="682.6" font-size="5.4" fill="#161616" stroke="#161616" stroke-width="0.25">2</text>
<line x1="301.10" y1="661.80" x2="303.70" y2="661.80" stroke="#444" stroke-width="0.9" />
<text x="296.7" y="665.2" font-size="8.0" text-anchor="end" fill="#161616" stroke="#161616" stroke-width="0.3">10</text>
<text x="297.1" y="660.6" font-size="5.4" fill="#161616" stroke="#161616" stroke-width="0.25">3</text>
<line x1="301.10" y1="639.80" x2="303.70" y2="639.80" stroke="#444" stroke-width="0.9" />
<text x="296.7" y="643.2" font-size="8.0" text-anchor="end" fill="#161616" stroke="#161616" stroke-width="0.3">10</text>
<text x="297.1" y="638.6" font-size="5.4" fill="#161616" stroke="#161616" stroke-width="0.25">4</text>
<line x1="301.10" y1="617.80" x2="303.70" y2="617.80" stroke="#444" stroke-width="0.9" />
<text x="296.7" y="621.2" font-size="8.0" text-anchor="end" fill="#161616" stroke="#161616" stroke-width="0.3">10</text>
<text x="297.1" y="616.6" font-size="5.4" fill="#161616" stroke="#161616" stroke-width="0.25">5</text>
<line x1="301.10" y1="595.80" x2="303.70" y2="595.80" stroke="#444" stroke-width="0.9" />
<text x="296.7" y="599.2" font-size="8.0" text-anchor="end" fill="#161616" stroke="#161616" stroke-width="0.3">10</text>
<text x="297.1" y="594.6" font-size="5.4" fill="#161616" stroke="#161616" stroke-width="0.25">6</text>
<line x1="301.10" y1="573.80" x2="303.70" y2="573.80" stroke="#444" stroke-width="0.9" />
<text x="296.7" y="577.2" font-size="8.0" text-anchor="end" fill="#161616" stroke="#161616" stroke-width="0.3">10</text>
<text x="297.1" y="572.6" font-size="5.4" fill="#161616" stroke="#161616" stroke-width="0.25">7</text>
<line x1="303.70" y1="683.80" x2="303.70" y2="686.40" stroke="#444" stroke-width="0.9" />
<text x="303.70" y="695.20" font-size="8.4" text-anchor="middle" font-weight="normal" font-style="normal" fill="#161616"  stroke="#161616" stroke-width="0.36">0</text>
<line x1="321.22" y1="683.80" x2="321.22" y2="685.30" stroke="#444" stroke-width="0.7" />
<line x1="338.74" y1="683.80" x2="338.74" y2="686.40" stroke="#444" stroke-width="0.9" />
<text x="338.74" y="695.20" font-size="8.4" text-anchor="middle" font-weight="normal" font-style="normal" fill="#161616"  stroke="#161616" stroke-width="0.36">20</text>
<line x1="356.26" y1="683.80" x2="356.26" y2="685.30" stroke="#444" stroke-width="0.7" />
<line x1="373.78" y1="683.80" x2="373.78" y2="686.40" stroke="#444" stroke-width="0.9" />
<text x="373.78" y="695.20" font-size="8.4" text-anchor="middle" font-weight="normal" font-style="normal" fill="#161616"  stroke="#161616" stroke-width="0.36">40</text>
<line x1="391.30" y1="683.80" x2="391.30" y2="685.30" stroke="#444" stroke-width="0.7" />
<line x1="408.82" y1="683.80" x2="408.82" y2="686.40" stroke="#444" stroke-width="0.9" />
<text x="408.82" y="695.20" font-size="8.4" text-anchor="middle" font-weight="normal" font-style="normal" fill="#161616"  stroke="#161616" stroke-width="0.36">60</text>
<line x1="426.34" y1="683.80" x2="426.34" y2="685.30" stroke="#444" stroke-width="0.7" />
<line x1="443.86" y1="683.80" x2="443.86" y2="686.40" stroke="#444" stroke-width="0.9" />
<text x="443.86" y="695.20" font-size="8.4" text-anchor="middle" font-weight="normal" font-style="normal" fill="#161616"  stroke="#161616" stroke-width="0.36">80</text>
<text transform="translate(281.00,683.20) rotate(-90)" font-size="11.8" text-anchor="start" font-weight="normal" fill="#111" stroke="#111" stroke-width="0.35" textLength="49.6">Viral Load</text>
<text transform="translate(281.00,627.80) rotate(-90)" font-size="11.8" text-anchor="start" font-weight="normal" fill="#111" stroke="#111" stroke-width="0.35" textLength="57.8">(copies/ml)</text>
<text x="312.6" y="579.2" font-size="8.4" fill="#161616" stroke="#161616" stroke-width="0.3"><tspan font-style="italic">r</tspan> =0.743</text>
<text x="350.4" y="579.2" font-size="8.4" fill="#161616" stroke="#161616" stroke-width="0.3"><tspan font-style="italic">P</tspan> &lt;.001</text>
<text x="341.2" y="711.6" font-size="11.6" fill="#111" stroke="#111" stroke-width="0.3" textLength="63.6">% PD-1<tspan font-size="5.6" dy="-6.4">+</tspan><tspan dy="6.4">Pen</tspan><tspan font-size="5.6" dy="-6.4">+</tspan></text>
<rect x="313.55" y="666.75" width="3.70" height="3.70" fill="#fff" stroke="#4a4a4a" stroke-width="0.75" />
<rect x="323.55" y="666.75" width="3.70" height="3.70" fill="#fff" stroke="#4a4a4a" stroke-width="0.75" />
<rect x="325.95" y="666.75" width="3.70" height="3.70" fill="#fff" stroke="#4a4a4a" stroke-width="0.75" />
<rect x="328.95" y="666.75" width="3.70" height="3.70" fill="#fff" stroke="#4a4a4a" stroke-width="0.75" />
<rect x="363.75" y="666.75" width="3.70" height="3.70" fill="#fff" stroke="#4a4a4a" stroke-width="0.75" />
<circle cx="336.4" cy="635.0" r="1.95" fill="#fff" stroke="#4a4a4a" stroke-width="0.75"/>
<circle cx="422.4" cy="597.4" r="1.95" fill="#fff" stroke="#4a4a4a" stroke-width="0.75"/>
<circle cx="431.4" cy="596.0" r="1.95" fill="#fff" stroke="#4a4a4a" stroke-width="0.75"/>
<circle cx="379.4" cy="605.2" r="1.95" fill="#fff" stroke="#4a4a4a" stroke-width="0.75"/>
<circle cx="398.4" cy="617.4" r="1.95" fill="#fff" stroke="#4a4a4a" stroke-width="0.75"/>
<circle cx="435.4" cy="621.4" r="1.95" fill="#fff" stroke="#4a4a4a" stroke-width="0.75"/>
<circle cx="362.4" cy="620.4" r="1.95" fill="#fff" stroke="#4a4a4a" stroke-width="0.75"/>
<circle cx="368.4" cy="619.4" r="1.95" fill="#fff" stroke="#4a4a4a" stroke-width="0.75"/>
<circle cx="357.4" cy="631.0" r="1.95" fill="#fff" stroke="#4a4a4a" stroke-width="0.75"/>
<circle cx="376.4" cy="636.4" r="1.95" fill="#fff" stroke="#4a4a4a" stroke-width="0.75"/>
<circle cx="354.4" cy="642.4" r="1.95" fill="#fff" stroke="#4a4a4a" stroke-width="0.75"/>
<circle cx="399.0" cy="646.4" r="1.95" fill="#fff" stroke="#4a4a4a" stroke-width="0.75"/>
<circle cx="366.4" cy="653.4" r="1.95" fill="#fff" stroke="#4a4a4a" stroke-width="0.75"/>
<circle cx="373.4" cy="651.2" r="1.95" fill="#fff" stroke="#4a4a4a" stroke-width="0.75"/>
<line x1="303.70" y1="673.40" x2="444.40" y2="594.40" stroke="#222" stroke-width="1.0" />
</g>
</svg>
</body></html>
